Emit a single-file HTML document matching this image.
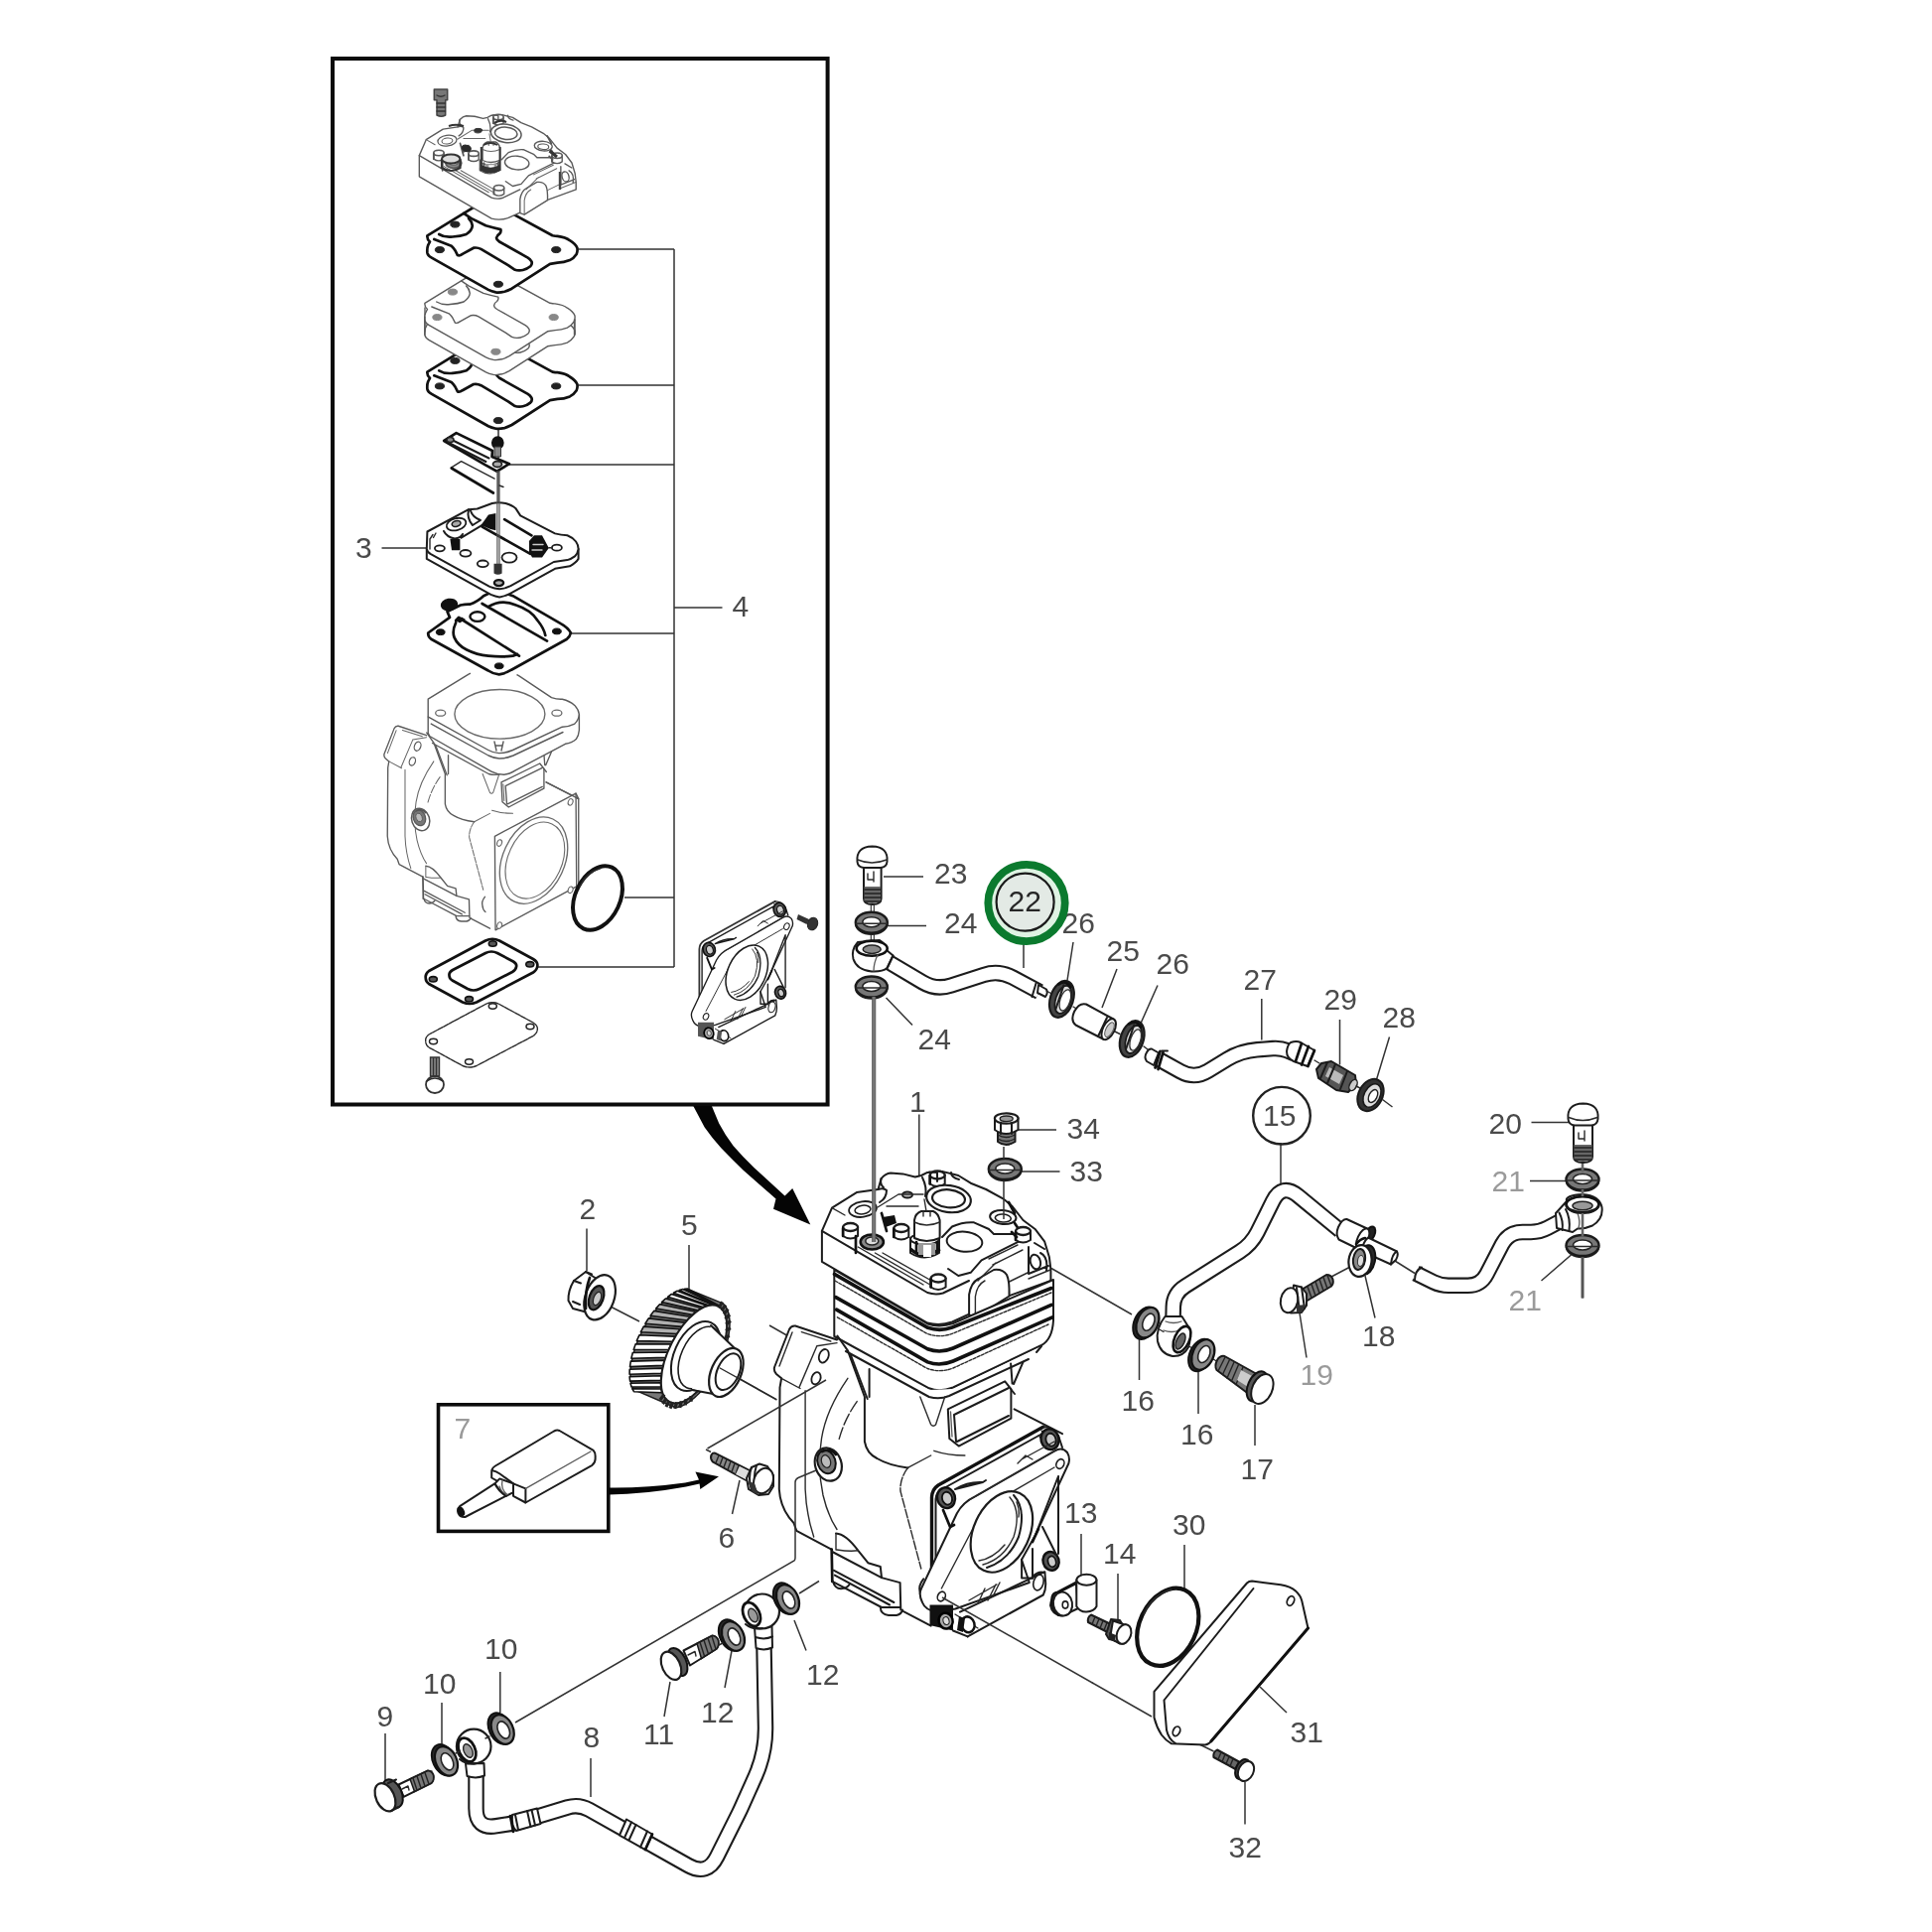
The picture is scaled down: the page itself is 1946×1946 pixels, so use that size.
<!DOCTYPE html>
<html><head><meta charset="utf-8"><title>Compressor parts diagram</title>
<style>
html,body{margin:0;padding:0;background:#fff}
body{width:1946px;height:1946px;overflow:hidden}
svg{display:block}
text{font-family:"Liberation Sans",sans-serif;font-size:30px;fill:#4a4a4a}
.k{fill:none;stroke:#1c1c1c;stroke-width:2;stroke-linecap:round;stroke-linejoin:round}
.t{fill:none;stroke:#2a2a2a;stroke-width:1.4;stroke-linecap:round;stroke-linejoin:round}
.g{fill:none;stroke:#5a5a5a;stroke-width:1.3;stroke-linecap:round;stroke-linejoin:round}
.b{fill:none;stroke:#111;stroke-width:2.7;stroke-linecap:round;stroke-linejoin:round}
.w{fill:#fff}
.l{fill:none;stroke:#333;stroke-width:1.5}
.gk{fill:none;stroke:#5a5a5a;stroke-width:2;stroke-linecap:round;stroke-linejoin:round}
.gt{fill:none;stroke:#666;stroke-width:1.5;stroke-linecap:round;stroke-linejoin:round}
.gb{fill:none;stroke:#555;stroke-width:2.6;stroke-linecap:round;stroke-linejoin:round}
.gi{fill:none;stroke:#5a5a5a;stroke-width:1.4;stroke-linecap:round;stroke-linejoin:round}
</style></head><body>
<svg width="1946" height="1946" viewBox="0 0 1946 1946">
<rect width="1946" height="1946" fill="#fff"/>
<g id="all" style="filter:blur(0.55px)">
<!-- 00_frame.svg -->
<g id="boxes">
<rect x="335" y="59" width="498.6" height="1053.5" fill="none" stroke="#0c0c0c" stroke-width="4"/>
<rect x="441.5" y="1414.8" width="171.3" height="127.6" fill="none" stroke="#0c0c0c" stroke-width="3.6"/>
</g>
<g id="leaders" class="l">
<path d="M890 883H930M894 932.5H933M1031 950V975M1081 949L1075 987.5M1125 976L1110 1015M1166 992.5L1146 1037.5M892.5 1005L919 1032.5M925.8 1122.5V1184M1025 1138H1064M1029 1180H1067.5"/>


<path d="M1270.8 1006V1047.5M1349.5 1027V1072.5M1399.5 1044.5L1386 1089M1392.5 1107.5L1402.5 1115M1290 1151V1194M1542.5 1130.5H1580M1541 1189.5H1580M1552.5 1290L1582.5 1264M1594 1267.5V1307.5M1375 1285L1385 1327.5M1309 1322.5L1316 1367.5M1341 1286L1360 1276M1405 1270L1425 1282.5"/>
<path d="M1147.5 1347.5V1390M1207 1381V1424M1264 1415V1456M1193 1556V1600M1126 1585V1632M1059 1277.5L1140 1324M1089 1545V1592.5"/>
<path d="M1269 1699L1296 1725M1254 1795V1837.5M1100 1695L1101 1695.5M1187.5 1747L1222.5 1764"/>
<path d="M745 1491L737.5 1525M503.8 1684V1725M445 1715V1759M388 1746V1796M595 1771V1810M675 1694L669 1729M737.5 1660L730 1700M800 1632L812 1662.5"/>
<path d="M805 1605L825 1592.5"/>
<path d="M591 1237.5V1280M694 1254V1299M611 1314L644 1331M727.5 1379L782.5 1410M775 1335L792.5 1345M711 1460L716 1462.5"/>
<path d="M679 251V974M582.5 251H679M582.5 388H679M512.5 468H679M575 638H679M679 612H727.5M629 904H679M541 974H679M384.5 552H429M502 430V571"/>
</g>
<g id="labels">
<text x="941" y="890">23</text><text x="951" y="940">24</text><text x="1069.5" y="940">26</text><text x="1114.5" y="967.5">25</text><text x="1164.5" y="981">26</text><text x="924.5" y="1057">24</text><text x="916" y="1120">1</text><text x="1074.5" y="1147">34</text><text x="1077.5" y="1189.5">33</text>
<text x="1252.5" y="997">27</text><text x="1333.5" y="1017">29</text><text x="1392.5" y="1034.5">28</text><text x="1272" y="1134">15</text><text x="1499.5" y="1142">20</text>
<text x="1502.5" y="1199.5" style="fill:#9a9a9a">21</text><text x="1519.5" y="1319.5" style="fill:#9a9a9a">21</text><text x="1372" y="1355.5">18</text><text x="1309.5" y="1394.5" style="fill:#9a9a9a">19</text>
<text x="1129.5" y="1420.5">16</text><text x="1189" y="1454.5">16</text><text x="1249.5" y="1490">17</text><text x="1181" y="1546">30</text><text x="1111" y="1575">14</text><text x="1072" y="1534">13</text>
<text x="1299.5" y="1755">31</text><text x="1237.5" y="1870.5">32</text>
<text x="723.5" y="1559">6</text><text x="488" y="1671">10</text><text x="426" y="1706">10</text><text x="379.5" y="1739">9</text><text x="587.5" y="1760">8</text><text x="648" y="1757">11</text><text x="706" y="1734.5">12</text><text x="812" y="1697">12</text>
<text x="583.5" y="1228">2</text><text x="686" y="1244">5</text><text x="457.5" y="1449" style="fill:#9a9a9a">7</text><text x="358" y="562">3</text><text x="737.5" y="621">4</text>
</g>
<g id="c15"><circle cx="1291" cy="1123.7" r="28.8" fill="none" stroke="#222" stroke-width="2.4"/></g>

<!-- 10_inset.svg -->
<path d="M437.3 90H450.7V100.7H448.7V116Q444.5 118.5 440 116V100.7H437.3Z" fill="#777" stroke="#444" stroke-width="1.5" stroke-linejoin="round"/><path class="t" d="M440 104H448.5M440 108H448.5M440 112H448.5M440 96Q444 98.5 448 96" style="stroke:#333"/><g transform="translate(-139.5 -170.2) scale(0.675)"><path class="gk" d="M851.9 1362L872 1408"/><path fill="#fff" stroke="none" d="M853 1358L936 1400L960 1399L1049 1356L1030 1372L1020 1394L1070 1444L1050 1438L940 1505L939 1636L908 1622L838 1562L800 1532L785 1503V1397L780 1380L801 1335.5L843 1349.5Z"/><path class="gk" d="M843.4 1345.5L853.9 1360.4L870.9 1407V1452Q873 1464 883.4 1469Q895 1476 914.4 1478.4"/><path class="gk" d="M856.6 1364L873.7 1409M875.6 1379V1407"/><path class="gk" d="M851.9 1361L935.8 1407Q946.6 1410 956 1406L1036 1369"/><path class="gk" d="M1049 1356L1044 1362"/><path class="gt" d="M926.8 1407L937.7 1434.9Q940 1437.5 942.5 1435L951.7 1407"/><path class="gk" d="M954.8 1419.4L1012.2 1391.4L1018.4 1399.2V1428.7L965.7 1456.6L956.3 1448.9Z" style="fill:#fff"/><path class="gk" d="M961 1425L1016 1398M961 1425L963 1452M1016 1426L964 1452"/><path class="gt" d="M957.5 1422L959 1447"/><path class="gk" d="M1018.1 1373.4L1019.6 1393.6M1030.5 1371.9L1021 1394"/><path class="gk" d="M1021.6 1419.4L1070 1444.2M1018.4 1399.5L1022 1404"/><path class="gt" d="M940.8 1461.3Q955 1466 971.9 1466M937.7 1466L914.4 1478.4"/><path class="gt" d="M914.4 1478.4Q906 1490 907 1502L927.8 1580" style="stroke-dasharray:9 2"/><path class="gk" d="M843 1349.5L801.1 1335.5Q797 1335 795 1339L780.1 1377Q779 1381 782 1384L787.1 1388.3L785.5 1397.6L784.8 1500Q786 1520 799.5 1534L802.3 1541.9L837.5 1560.6"/><path class="gt" d="M807.3 1341.7L836.8 1351M822.8 1355.7L843 1352.6M822.8 1355.7L804.9 1397.6M787.1 1388.3L806 1398.5M811.1 1400.7V1500Q812 1525 819.7 1548"/><path class="gt" d="M798 1342L785 1376"/><ellipse cx="829.8" cy="1365.8" rx="4.7" ry="7.0" transform="rotate(20.0 829.8 1365.8)" fill="#fff" stroke="#5a5a5a" stroke-width="1.8"/><ellipse cx="822.0" cy="1388.3" rx="4.4" ry="6.3" transform="rotate(20.0 822.0 1388.3)" fill="#fff" stroke="#5a5a5a" stroke-width="1.8"/><path class="gt" d="M853.9 1388.3Q832 1420 827.5 1449Q823 1478 829 1506Q834 1527 843 1540.5"/><path class="gt" d="M863.2 1411.6Q850 1430 844.5 1452" style="stroke-dasharray:12 3"/><ellipse cx="834.3" cy="1475.0" rx="13.2" ry="17.0" transform="rotate(-18.0 834.3 1475.0)" fill="#fff" stroke="#5a5a5a" stroke-width="2.2"/><ellipse cx="832.5" cy="1472.5" rx="9.0" ry="12.0" transform="rotate(-18.0 832.5 1472.5)" fill="#777" stroke="#5a5a5a" stroke-width="2.0"/><ellipse cx="832.0" cy="1472.0" rx="4.5" ry="6.5" transform="rotate(-18.0 832.0 1472.0)" fill="#bbb" stroke="#5a5a5a" stroke-width="1.3"/><path class="gb" d="M828 1462Q836 1458 842 1465"/><path class="gk" d="M842 1544.4Q852 1545 864.4 1561.8L874.3 1574.2L886.8 1578L888 1589.1L906.6 1594.1L907.3 1621.4"/><path class="gt" d="M842 1545V1561M843 1561Q856 1563 864.4 1561.8"/><path class="gb" d="M837.7 1560.6L838.3 1592.9"/><path class="gk" d="M838.3 1563L888 1589.1M839.6 1581.7L900.4 1614M840.8 1586.6L896 1616.5M838.3 1592.9L888 1619H907"/><path class="gk" d="M839 1593Q841 1600 847 1600.3Q853 1600 855.5 1596M886.8 1619Q887 1626 895 1627H903Q908 1626 909 1621.5"/><path class="gk" d="M909.1 1622.7L937.7 1637.6"/><path class="gk" d="M930.2 1590.4Q925 1597 926.5 1603Q927 1610 931 1613"/><path class="gk" d="M945 1500L1066 1436L1067 1575L946 1640Z" style="fill:#fff"/><path class="gk" d="M1021.6 1419.4L1070 1444.2V1580L1067 1575M1066 1436L1070 1444"/><ellipse cx="1003.0" cy="1536.0" rx="46.0" ry="68.0" transform="rotate(25.0 1003.0 1536.0)" fill="#fff" stroke="#6a6a6a" stroke-width="2.0"/><ellipse cx="1005.0" cy="1536.0" rx="40.0" ry="60.0" transform="rotate(25.0 1005.0 1536.0)" fill="#fff" stroke="#6a6a6a" stroke-width="1.6"/><ellipse cx="1058.0" cy="1449.0" rx="3.5" ry="5.0" transform="rotate(20.0 1058.0 1449.0)" fill="#fff" stroke="#6a6a6a" stroke-width="1.6"/><ellipse cx="952.0" cy="1510.0" rx="3.5" ry="5.0" transform="rotate(20.0 952.0 1510.0)" fill="#fff" stroke="#6a6a6a" stroke-width="1.6"/><ellipse cx="1058.0" cy="1580.0" rx="3.5" ry="5.0" transform="rotate(20.0 1058.0 1580.0)" fill="#fff" stroke="#6a6a6a" stroke-width="1.6"/><ellipse cx="952.0" cy="1633.0" rx="3.5" ry="5.0" transform="rotate(20.0 952.0 1633.0)" fill="#fff" stroke="#6a6a6a" stroke-width="1.6"/></g><path class="gi" d="M431.2 704.2L471.6 679.4L497 666L522.9 680.9L555.5 702.7Q561 704.5 566.3 704.2Q574 706 578.8 710.4Q583 715 583.4 719.8V735.3Q583 741 580.3 744.6Q576 748.5 569.4 749.3L519.8 775.7Q513 780 507.3 780.3Q500 780 494.9 777.2L432.8 741.5L431.2 738.4Z" style="fill:#fff"/><path class="gi" d="M431.2 722L432.8 722.9L491.8 755.5Q497 758.5 502.7 758.6Q510 758.5 516.6 755.5L566.3 732.2Q573 732 578.8 729.1Q583 725 583.4 719.8"/><path class="gi" d="M434.3 729.1L492 761Q498 764 503 764Q510 764 517 761L567 737.5"/><ellipse cx="503.4" cy="719.3" rx="45.5" ry="24.8" transform="rotate(0.0 503.4 719.3)" fill="#fff" stroke="#6a6a6a" stroke-width="1.4"/><ellipse cx="443.7" cy="718.2" rx="5.0" ry="3.0" transform="rotate(0.0 443.7 718.2)" fill="#fff" stroke="#6a6a6a" stroke-width="1.3"/><ellipse cx="560.9" cy="718.2" rx="5.0" ry="3.0" transform="rotate(0.0 560.9 718.2)" fill="#fff" stroke="#6a6a6a" stroke-width="1.3"/><path class="gi" d="M498 747L500 756M507 747L505 756M499 751H506"/><path d="M474 678.2L497 666L520.5 679.5" fill="none" stroke="#fff" stroke-width="3.4"/><ellipse cx="602.0" cy="904.5" rx="22.5" ry="34.0" transform="rotate(25.0 602.0 904.5)" fill="none" stroke="#111" stroke-width="4.0"/><path class="t" d="M584 893Q590 879 605 874.5"/><path class="b" d="M431.2 637.5L453 621.9L450.5 616L463.9 609.5Q469 608.5 473.2 608.7Q481 606 487.1 600.2L500 594L516.6 600.2L564.8 628.1Q572 632 574.9 637.5Q574 641.5 571 643.7L515.1 674.7Q509 678.5 502.7 679.4Q496 678.5 491.8 675.5L434.3 643.7Q431 641 431.2 637.5Z" style="fill:#fff"/><ellipse cx="452.5" cy="609.0" rx="8.0" ry="5.5" transform="rotate(-10.0 452.5 609.0)" fill="#111" stroke="#111" stroke-width="1.5"/><path class="b" d="M491.8 611.1Q505 603 519.8 609.5Q535 614.5 541.5 625Q548 633 549.3 640"/><path class="b" d="M459.2 627Q455 636 457.6 642.1Q461 650 470.1 654.5Q480 659.5 491.8 660.7Q506 662 516.6 660.7L521 659"/><path class="b" d="M485.6 608L551 645.6M459.2 625L462 622L522.9 660.7"/><path d="M459.2 625L465 621.5L469 624L463 627.5Z" fill="#111"/><ellipse cx="480.9" cy="621.1" rx="7.5" ry="4.8" transform="rotate(0.0 480.9 621.1)" fill="#fff" stroke="#111" stroke-width="2.4"/><ellipse cx="443.7" cy="636.7" rx="4.4" ry="2.9" transform="rotate(0.0 443.7 636.7)" fill="#111" stroke="#111" stroke-width="1.0"/><ellipse cx="560.9" cy="635.9" rx="4.4" ry="2.9" transform="rotate(0.0 560.9 635.9)" fill="#111" stroke="#111" stroke-width="1.0"/><ellipse cx="502.7" cy="670.8" rx="4.4" ry="2.9" transform="rotate(0.0 502.7 670.8)" fill="#111" stroke="#111" stroke-width="1.0"/><path class="k" d="M429.8 552.9V562.9L494.4 598.9Q499 601 503.1 601.4Q509 600.5 514.3 597.6L559 572.8L573.9 570.3Q580 567 582.6 562.9V552.9Z" style="fill:#fff"/><path class="k" d="M430.4 535.5L472 513.2L480.7 512.5L495.7 507Q502 505.5 509.3 507Q516 509 519.3 511.9L524.2 519.4L559 537.4Q565 539 571.4 539.3Q577 541.5 580.1 545.5Q582.6 549 582.6 552.9Q582 557.5 578.9 560.4Q575.5 563 571.4 564.1L557.8 566L514.3 590.2Q509 592.8 503.1 593.3Q498 592.8 493.2 590.8L433.5 557.9Q430 555.5 429.8 552.9Z" style="fill:#fff"/><path class="t" d="M436 538.5L433 543V553M439 537L436.5 541.5"/><ellipse cx="442.9" cy="552.3" rx="5.0" ry="3.0" transform="rotate(0.0 442.9 552.3)" fill="#fff" stroke="#1c1c1c" stroke-width="1.8"/><ellipse cx="468.9" cy="557.3" rx="5.5" ry="3.3" transform="rotate(0.0 468.9 557.3)" fill="#fff" stroke="#1c1c1c" stroke-width="1.8"/><ellipse cx="486.3" cy="567.8" rx="5.5" ry="3.3" transform="rotate(0.0 486.3 567.8)" fill="#fff" stroke="#1c1c1c" stroke-width="1.8"/><ellipse cx="513.0" cy="561.6" rx="7.5" ry="5.0" transform="rotate(0.0 513.0 561.6)" fill="#fff" stroke="#1c1c1c" stroke-width="1.8"/><ellipse cx="560.9" cy="551.7" rx="5.0" ry="3.0" transform="rotate(0.0 560.9 551.7)" fill="#fff" stroke="#1c1c1c" stroke-width="1.8"/><ellipse cx="502.5" cy="587.1" rx="4.6" ry="3.0" transform="rotate(0.0 502.5 587.1)" fill="#aaa" stroke="#111" stroke-width="2.4"/><ellipse cx="459.6" cy="528.1" rx="10.0" ry="6.0" transform="rotate(-15.0 459.6 528.1)" fill="#fff" stroke="#1c1c1c" stroke-width="1.8"/><ellipse cx="459.6" cy="527.5" rx="4.5" ry="2.8" transform="rotate(-15.0 459.6 527.5)" fill="#aaa" stroke="#1c1c1c" stroke-width="1.6"/><path class="k" d="M447 535Q450 541 458 542.5Q464 542 466 538M464.6 541.7L487 528.1M474 514.5Q476 521 484 524L476 529Q470 522 472 513.2"/><path d="M484.5 529L492 518.5L499.4 516.9V534.3L494 533Z" fill="#111"/><path class="b" d="M508.1 523.1L535.4 539.3M485.7 530.6L534.2 557.9"/><path d="M532.9 545L538 539.3H546L552.8 552L546 561.6H536L533 556Z" fill="#111"/><path class="t" d="M537 548.5H547M536 554H546" style="stroke:#ccc"/><path d="M453.4 543H463.4V554.2H455Z" fill="#111"/><path class="t" d="M552.8 551.7H556"/><path class="b" d="M447.2 444L459.6 436.1L496 454L495.5 460L513 467.2L500.6 474.7L489 468.4Z" style="fill:#fff"/><path class="k" d="M456 443.5L492.5 461.5M452 446L489.4 465"/><ellipse cx="453.5" cy="443.0" rx="3.5" ry="2.5" transform="rotate(0.0 453.5 443.0)" fill="#888" stroke="#222" stroke-width="1.5"/><ellipse cx="501.0" cy="467.5" rx="4.5" ry="3.0" transform="rotate(0.0 501.0 467.5)" fill="#aaa" stroke="#222" stroke-width="1.8"/><ellipse cx="501.3" cy="446.0" rx="5.6" ry="6.0" transform="rotate(0.0 501.3 446.0)" fill="#111" stroke="#111" stroke-width="1.5"/><path d="M498 450H504.5V460H498Z" fill="#888" stroke="#333" stroke-width="1"/><path class="t" d="M464.6 464.7L498.1 482.1M454.7 470.9L464.6 464.7"/><path class="b" d="M454.7 471.5L496.9 496.5"/><path d="M500.9 474V568M503 474V568" stroke="#555" stroke-width="1.2" fill="none"/><path d="M497.5 567.8H505.6V577.5Q501.5 580 497.5 577.5Z" fill="#333"/><path class="t" d="M503 489L507 490.5"/><g transform="translate(0.0 137.3)"><path class="b" d="M430.4 237.3L467.1 214.9L490 201L556.5 237.3Q560 238 561.5 237.9Q570 239 573.9 242.2Q580 246 581.4 249.7Q582 253 580.7 255.9Q578 260 573.9 262.1Q568 264.5 561.5 264.6L554 265.8L515.5 290.7Q511 293 508.1 293.8Q503 295 499.4 294.4Q495 293.5 491.9 291.9L434.8 259.6Q431 257.5 430.4 254.7Q430 250 431.1 247.2L433 243.5Q430 241 430.4 237.3Z" style="fill:#fff"/><path class="b" d="M437.3 241L454.7 247.8Q457 250 458.4 252.2L460.9 257.1Q463 258 465.8 255.9L477 249.7Q481 249 484.5 250.9L511.8 267.1L518 271.4Q522 273 526.7 272Q531 271 534.2 268.3Q536.5 266 535.4 263.4Q534 261 531.7 259.6L503.1 243.5Q500 241.5 500 239.8Q500.5 237 503.1 235.5Q505 233.5 504.3 231.1Q497 229.5 489.4 227.3L474.5 219.9L467.1 214.9"/><path class="b" d="M442.2 236Q448 239.5 455.9 238.5Q464 238 469.6 236Q475.5 232 475.8 227.3Q475 222.5 472 219.9"/><ellipse cx="442.9" cy="251.6" rx="4.6" ry="3.0" transform="rotate(0.0 442.9 251.6)" fill="#222" stroke="#222" stroke-width="1.0"/><ellipse cx="560.2" cy="251.6" rx="4.6" ry="3.0" transform="rotate(0.0 560.2 251.6)" fill="#222" stroke="#222" stroke-width="1.0"/><ellipse cx="501.9" cy="286.3" rx="4.6" ry="3.0" transform="rotate(0.0 501.9 286.3)" fill="#222" stroke="#222" stroke-width="1.0"/><ellipse cx="458.4" cy="226.1" rx="4.6" ry="3.0" transform="rotate(0.0 458.4 226.1)" fill="#222" stroke="#222" stroke-width="1.0"/></g><g transform="translate(-2.5 83.0)"><path class="gi" d="M430.4 237.3L467.1 214.9L490 201L556.5 237.3Q560 238 561.5 237.9Q570 239 573.9 242.2Q580 246 581.4 249.7Q582 253 580.7 255.9Q578 260 573.9 262.1Q568 264.5 561.5 264.6L554 265.8L515.5 290.7Q511 293 508.1 293.8Q503 295 499.4 294.4Q495 293.5 491.9 291.9L434.8 259.6Q431 257.5 430.4 254.7Q430 250 431.1 247.2L433 243.5Q430 241 430.4 237.3Z" style="fill:#fff"/><path class="gi" d="M437.3 241L454.7 247.8Q457 250 458.4 252.2L460.9 257.1Q463 258 465.8 255.9L477 249.7Q481 249 484.5 250.9L511.8 267.1L518 271.4Q522 273 526.7 272Q531 271 534.2 268.3Q536.5 266 535.4 263.4Q534 261 531.7 259.6L503.1 243.5Q500 241.5 500 239.8Q500.5 237 503.1 235.5Q505 233.5 504.3 231.1Q497 229.5 489.4 227.3L474.5 219.9L467.1 214.9"/><path class="gi" d="M442.2 236Q448 239.5 455.9 238.5Q464 238 469.6 236Q475.5 232 475.8 227.3Q475 222.5 472 219.9"/></g><path class="gi" d="M427.9 322V337M579 322V337M428 310V322"/><g transform="translate(-2.5 68.0)"><path class="gi" d="M430.4 237.3L467.1 214.9L490 201L556.5 237.3Q560 238 561.5 237.9Q570 239 573.9 242.2Q580 246 581.4 249.7Q582 253 580.7 255.9Q578 260 573.9 262.1Q568 264.5 561.5 264.6L554 265.8L515.5 290.7Q511 293 508.1 293.8Q503 295 499.4 294.4Q495 293.5 491.9 291.9L434.8 259.6Q431 257.5 430.4 254.7Q430 250 431.1 247.2L433 243.5Q430 241 430.4 237.3Z" style="fill:#fff"/><path class="gi" d="M437.3 241L454.7 247.8Q457 250 458.4 252.2L460.9 257.1Q463 258 465.8 255.9L477 249.7Q481 249 484.5 250.9L511.8 267.1L518 271.4Q522 273 526.7 272Q531 271 534.2 268.3Q536.5 266 535.4 263.4Q534 261 531.7 259.6L503.1 243.5Q500 241.5 500 239.8Q500.5 237 503.1 235.5Q505 233.5 504.3 231.1Q497 229.5 489.4 227.3L474.5 219.9L467.1 214.9"/><path class="gi" d="M442.2 236Q448 239.5 455.9 238.5Q464 238 469.6 236Q475.5 232 475.8 227.3Q475 222.5 472 219.9"/><ellipse cx="442.9" cy="251.6" rx="4.6" ry="3.0" transform="rotate(0.0 442.9 251.6)" fill="#888" stroke="#888" stroke-width="1.0"/><ellipse cx="560.2" cy="251.6" rx="4.6" ry="3.0" transform="rotate(0.0 560.2 251.6)" fill="#888" stroke="#888" stroke-width="1.0"/><ellipse cx="501.9" cy="286.3" rx="4.6" ry="3.0" transform="rotate(0.0 501.9 286.3)" fill="#888" stroke="#888" stroke-width="1.0"/><ellipse cx="458.4" cy="226.1" rx="4.6" ry="3.0" transform="rotate(0.0 458.4 226.1)" fill="#888" stroke="#888" stroke-width="1.0"/></g><path class="gi" d="M427.9 319V334M578.5 322V337"/><g transform="translate(0.0 0.0)"><path class="b" d="M430.4 237.3L467.1 214.9L490 201L556.5 237.3Q560 238 561.5 237.9Q570 239 573.9 242.2Q580 246 581.4 249.7Q582 253 580.7 255.9Q578 260 573.9 262.1Q568 264.5 561.5 264.6L554 265.8L515.5 290.7Q511 293 508.1 293.8Q503 295 499.4 294.4Q495 293.5 491.9 291.9L434.8 259.6Q431 257.5 430.4 254.7Q430 250 431.1 247.2L433 243.5Q430 241 430.4 237.3Z" style="fill:#fff"/><path class="b" d="M437.3 241L454.7 247.8Q457 250 458.4 252.2L460.9 257.1Q463 258 465.8 255.9L477 249.7Q481 249 484.5 250.9L511.8 267.1L518 271.4Q522 273 526.7 272Q531 271 534.2 268.3Q536.5 266 535.4 263.4Q534 261 531.7 259.6L503.1 243.5Q500 241.5 500 239.8Q500.5 237 503.1 235.5Q505 233.5 504.3 231.1Q497 229.5 489.4 227.3L474.5 219.9L467.1 214.9"/><path class="b" d="M442.2 236Q448 239.5 455.9 238.5Q464 238 469.6 236Q475.5 232 475.8 227.3Q475 222.5 472 219.9"/><ellipse cx="442.9" cy="251.6" rx="4.6" ry="3.0" transform="rotate(0.0 442.9 251.6)" fill="#222" stroke="#222" stroke-width="1.0"/><ellipse cx="560.2" cy="251.6" rx="4.6" ry="3.0" transform="rotate(0.0 560.2 251.6)" fill="#222" stroke="#222" stroke-width="1.0"/><ellipse cx="501.9" cy="286.3" rx="4.6" ry="3.0" transform="rotate(0.0 501.9 286.3)" fill="#222" stroke="#222" stroke-width="1.0"/><ellipse cx="458.4" cy="226.1" rx="4.6" ry="3.0" transform="rotate(0.0 458.4 226.1)" fill="#222" stroke="#222" stroke-width="1.0"/></g><g transform="translate(-144.8 -692.7) scale(0.685)"><path class="gk" d="M827.9 1239.9L838 1216.6L862.8 1201.1L884.5 1198L887.6 1187.1Q892 1182 897 1181.6L909.4 1182.4L921.8 1185.5L928 1184L934.2 1180.9L949.8 1180.1L965.3 1184L977.7 1191.7L993.2 1198L1010.3 1207.3L1019.6 1215L1030.5 1229L1042.9 1238.3L1052.2 1250.7L1056.9 1266.3L1058.4 1278.7V1290L1016.5 1305.1L976.1 1323.7L959.1 1331.5Q946.6 1336 934.2 1332.5L827.9 1270.9Z" style="fill:#fff"/><path class="gk" d="M827.9 1239.9L934.2 1302Q942 1304.5 949.8 1302.5L976 1290"/><path class="gt" d="M864.3 1256L930 1294M881.4 1262L936 1293.5M889 1262L940 1291"/><path class="gt" d="M1016.5 1291L1036 1281.5"/><path class="gk" d="M976.1 1324.5V1304Q978 1292 985.5 1288L1001 1279Q1010 1278 1014 1284Q1017 1290 1016.5 1305.5L982.4 1326.8Z" style="fill:#fff"/><path class="gt" d="M982.4 1326.8V1306Q984 1294 992 1290"/><path class="gk" d="M936.7 1183.5V1192.5Q944.2 1197.5 951.7 1192.5V1183.5Z" style="fill:#fff"/><ellipse cx="944.2" cy="1183.5" rx="7.5" ry="4.0" transform="rotate(0.0 944.2 1183.5)" fill="#fff" stroke="#5a5a5a" stroke-width="2.3"/><path class="gb" d="M936.7 1184.5V1192.5"/><ellipse cx="955.5" cy="1207.5" rx="22.5" ry="13.5" transform="rotate(8.0 955.5 1207.5)" fill="#fff" stroke="#5a5a5a" stroke-width="2.2"/><ellipse cx="955.5" cy="1207.3" rx="16.5" ry="9.0" transform="rotate(5.0 955.5 1207.3)" fill="#fff" stroke="#5a5a5a" stroke-width="2.2"/><path class="gk" d="M929 1186Q934 1196 932 1205M936 1180.5L944 1181L944 1190M958 1181Q958 1186 966 1188"/><path class="gk" d="M884.5 1198Q890 1196 893 1199Q893 1207 886 1211M887.6 1187.1Q886 1193 890 1196"/><ellipse cx="869.0" cy="1218.0" rx="14.0" ry="7.8" transform="rotate(-8.0 869.0 1218.0)" fill="#fff" stroke="#5a5a5a" stroke-width="1.8"/><ellipse cx="869.0" cy="1218.5" rx="8.0" ry="4.3" transform="rotate(-8.0 869.0 1218.5)" fill="#fff" stroke="#5a5a5a" stroke-width="1.5"/><ellipse cx="914.0" cy="1203.5" rx="5.0" ry="3.0" transform="rotate(0.0 914.0 1203.5)" fill="#bbb" stroke="#5a5a5a" stroke-width="2.0"/><path class="gt" d="M884 1216L905 1203H930M838 1216.6L851 1224M893 1215L925 1215"/><ellipse cx="1010.3" cy="1226.0" rx="13.2" ry="7.0" transform="rotate(5.0 1010.3 1226.0)" fill="#fff" stroke="#5a5a5a" stroke-width="2.0"/><ellipse cx="1010.3" cy="1227.0" rx="8.0" ry="4.0" transform="rotate(5.0 1010.3 1227.0)" fill="#fff" stroke="#5a5a5a" stroke-width="1.6"/><path class="gb" d="M1016 1211L1022 1222M1022 1232L1028 1241"/><path class="gk" d="M949 1246L959 1235.5Q970 1230.5 981 1231.3L996 1238L1001 1243H1022.7L1026 1250.7L1004 1261.6L988.6 1269.4L977.7 1281.8L965.3 1285L955 1278"/><ellipse cx="971.5" cy="1250.7" rx="17.9" ry="10.0" transform="rotate(5.0 971.5 1250.7)" fill="#fff" stroke="#5a5a5a" stroke-width="2.0"/><path class="gt" d="M996 1268L1025 1254M1000 1274L1030 1259M985 1290L1003 1272"/><path class="gk" d="M849.1 1236.0V1245.0Q856.6 1250.0 864.1 1245.0V1236.0Z" style="fill:#fff"/><ellipse cx="856.6" cy="1236.0" rx="7.5" ry="4.0" transform="rotate(0.0 856.6 1236.0)" fill="#fff" stroke="#5a5a5a" stroke-width="2.3"/><path class="gb" d="M849.1 1237.0V1245.0"/><path class="gk" d="M900.3 1237.0V1246.0Q907.8 1251.0 915.3 1246.0V1237.0Z" style="fill:#fff"/><ellipse cx="907.8" cy="1237.0" rx="7.5" ry="4.0" transform="rotate(0.0 907.8 1237.0)" fill="#fff" stroke="#5a5a5a" stroke-width="2.3"/><path class="gb" d="M900.3 1238.0V1246.0"/><path class="gk" d="M937.6 1287.5V1296.5Q945.1 1301.5 952.6 1296.5V1287.5Z" style="fill:#fff"/><ellipse cx="945.1" cy="1287.5" rx="7.5" ry="4.0" transform="rotate(0.0 945.1 1287.5)" fill="#fff" stroke="#5a5a5a" stroke-width="2.3"/><path class="gb" d="M937.6 1288.5V1296.5"/><path class="gk" d="M1023.0 1240.0V1249.0Q1030.5 1254.0 1038.0 1249.0V1240.0Z" style="fill:#fff"/><ellipse cx="1030.5" cy="1240.0" rx="7.5" ry="4.0" transform="rotate(0.0 1030.5 1240.0)" fill="#fff" stroke="#5a5a5a" stroke-width="2.3"/><path class="gb" d="M1023.0 1241.0V1249.0"/><path class="gb" d="M862 1245V1262M1019 1241L1024 1246"/><ellipse cx="878.3" cy="1251.0" rx="11.6" ry="7.5" transform="rotate(0.0 878.3 1251.0)" fill="#888" stroke="#5a5a5a" stroke-width="2.6"/><ellipse cx="878.3" cy="1250.0" rx="6.5" ry="4.0" transform="rotate(0.0 878.3 1250.0)" fill="#ddd" stroke="#5a5a5a" stroke-width="1.5"/><path d="M889 1226L901 1224L903 1232L892 1236Z" fill="#4a4a4a"/><path class="gb" d="M888 1222L893 1240"/><path class="gk" d="M917 1247V1262Q931 1271 946 1262V1247Z" style="fill:#fff"/><ellipse cx="931.5" cy="1248.0" rx="14.5" ry="5.5" transform="rotate(0.0 931.5 1248.0)" fill="#fff" stroke="#5a5a5a" stroke-width="2.0"/><path d="M917 1258Q931 1271 946.6 1258" fill="none" stroke="#5a5a5a" stroke-width="3.4"/><path class="gk" d="M921 1229V1247Q933 1253 946.6 1247V1229Q945 1222 940 1220H928Q922 1222 921 1229Z" style="fill:#fff"/><path class="gt" d="M921 1231Q933 1237 946.6 1231M930 1220V1225M937 1220V1225M931 1208L933 1220"/><path class="gb" d="M923 1251V1262M944 1251V1262"/><path d="M925 1252H942V1264H925Z" fill="#999"/><path d="M930 1254H938V1266H930Z" fill="#fff"/><ellipse cx="1042.9" cy="1271.0" rx="5.0" ry="7.5" transform="rotate(-15.0 1042.9 1271.0)" fill="#fff" stroke="#5a5a5a" stroke-width="2.0"/><path class="gk" d="M1036 1256L1036 1283M1036 1283L1056 1275M1042 1252L1052 1258M1048 1262Q1056 1266 1054 1280"/><path class="gt" d="M1036 1288L1058 1279"/></g><ellipse cx="481.8" cy="131.2" rx="4.0" ry="1.8" transform="rotate(0.0 481.8 131.2)" fill="#333" stroke="#333" stroke-width="1.0"/><ellipse cx="469.9" cy="149.4" rx="4.5" ry="3.0" transform="rotate(20.0 469.9 149.4)" fill="#2a2a2a" stroke="#2a2a2a" stroke-width="1.0"/><path d="M498 124Q504 120 510 123" fill="none" stroke="#333" stroke-width="2.2"/><path d="M485 166Q494 171.5 503.5 166V172Q494 177.5 485 172Z" fill="#333"/><path d="M484.8 148V172M503.6 148V172" fill="none" stroke="#333" stroke-width="2"/><path d="M487 146Q494 142 501 146" fill="none" stroke="#333" stroke-width="2"/><path d="M445 160V169Q454 175 463.5 169V160" fill="none" stroke="#333" stroke-width="2.2"/><ellipse cx="454.2" cy="160.0" rx="9.2" ry="4.6" transform="rotate(0.0 454.2 160.0)" fill="#ddd" stroke="#333" stroke-width="2.0"/><path d="M452 127Q459 124.5 467 127" fill="none" stroke="#333" stroke-width="2.2"/><path d="M553.5 152L561 158" fill="none" stroke="#333" stroke-width="3"/><path d="M564 173V191" fill="none" stroke="#444" stroke-width="2.4"/><path class="b" d="M428.8 985Q428 981 432 978L489 947.5Q496 944 503 947.5L537 966Q542 969 541.3 973Q541 977 537 979.5L480 1009.5Q473 1012.5 466 1009.5L432 991Q428.5 988.5 428.8 985Z" style="fill:#fff"/><path class="b" d="M452.5 982.5Q452 979.5 456 977L489 960Q495 957 501 960L517 968.5Q521 971 520 974Q519.5 977 516 979L483 996Q477 999 471 996L455.5 987.5Q452.5 985.5 452.5 982.5Z"/><ellipse cx="496.3" cy="950.5" rx="4.0" ry="2.7" transform="rotate(0.0 496.3 950.5)" fill="#555" stroke="#111" stroke-width="1.6"/><ellipse cx="533.8" cy="971.3" rx="4.0" ry="2.7" transform="rotate(0.0 533.8 971.3)" fill="#555" stroke="#111" stroke-width="1.6"/><ellipse cx="436.3" cy="986.3" rx="4.0" ry="2.7" transform="rotate(0.0 436.3 986.3)" fill="#555" stroke="#111" stroke-width="1.6"/><ellipse cx="472.5" cy="1006.3" rx="4.0" ry="2.7" transform="rotate(0.0 472.5 1006.3)" fill="#555" stroke="#111" stroke-width="1.6"/><path class="t" d="M428.8 1048.8Q428 1045 432 1042L489 1011.5Q496 1008 503 1011.5L537 1030Q542 1033 541.3 1037Q541 1041 537 1043.5L480 1073.5Q473 1076.5 466 1073.5L432 1055Q428.5 1052.5 428.8 1048.8Z" style="fill:#fff;stroke-dasharray:5 1.2"/><ellipse cx="496.3" cy="1013.5" rx="4.0" ry="2.7" transform="rotate(0.0 496.3 1013.5)" fill="#fff" stroke="#222" stroke-width="1.5"/><ellipse cx="534.0" cy="1034.0" rx="4.0" ry="2.7" transform="rotate(0.0 534.0 1034.0)" fill="#fff" stroke="#222" stroke-width="1.5"/><ellipse cx="436.5" cy="1049.0" rx="4.0" ry="2.7" transform="rotate(0.0 436.5 1049.0)" fill="#fff" stroke="#222" stroke-width="1.5"/><ellipse cx="472.5" cy="1069.5" rx="4.0" ry="2.7" transform="rotate(0.0 472.5 1069.5)" fill="#fff" stroke="#222" stroke-width="1.5"/><path d="M433.5 1065H442.5V1084H433.5Z" fill="#888" stroke="#333" stroke-width="1.4"/><path class="t" d="M436.5 1066V1083M439.5 1066V1083" style="stroke:#333"/><ellipse cx="438.0" cy="1092.5" rx="9.0" ry="8.5" transform="rotate(0.0 438.0 1092.5)" fill="#fff" stroke="#333" stroke-width="1.8"/><path class="t" d="M430 1089Q438 1083 446 1089"/><g transform="translate(66.2 -69.5) scale(0.68)"><path d="M938.5 1583V1508Q939 1500 945 1496L1050.8 1437.3" fill="none" stroke="#333" stroke-width="2.6" stroke-linecap="round"/><path class="k" d="M942.5 1572V1510Q943 1503 948 1500.5L1050.8 1443.5"/><path class="k" d="M1050.8 1437.3Q1060 1437 1066 1446L1070 1458"/><path class="t" d="M1049 1441L1063 1452M1046 1446L1058 1457"/><path class="k" d="M1062.5 1461.3Q1070 1457 1075 1463Q1078 1468 1076.4 1474L1043 1546L1029 1571L1036.8 1594L962.3 1620.5L943.7 1623.6Q932 1622 929 1614Q925 1606 928 1600L963.9 1524.2Q970 1513 982.5 1507.1Z" style="fill:#fff"/><path class="t" d="M948.3 1600L985 1530Q990 1520 1000 1514L1062 1478"/><path class="t" d="M1062.5 1461.3L976 1511"/><ellipse cx="1067.9" cy="1474.5" rx="3.8" ry="5.0" transform="rotate(25.0 1067.9 1474.5)" fill="#fff" stroke="#1c1c1c" stroke-width="1.6"/><ellipse cx="948.3" cy="1608.0" rx="3.8" ry="5.0" transform="rotate(25.0 948.3 1608.0)" fill="#fff" stroke="#1c1c1c" stroke-width="1.6"/><ellipse cx="1008.9" cy="1542.9" rx="28.0" ry="43.0" transform="rotate(25.0 1008.9 1542.9)" fill="#fff" stroke="#1c1c1c" stroke-width="2.2"/><path class="k" d="M1021 1506Q1034 1520 1026 1548Q1016 1572 994 1579"/><path class="t" d="M1017 1508Q1029 1522 1021 1548Q1011 1570 990 1576M1024 1513Q1027 1520 1026 1528M986 1572Q1000 1570 1012 1556"/><ellipse cx="953.0" cy="1508.7" rx="9.0" ry="10.5" transform="rotate(-15.0 953.0 1508.7)" fill="#555" stroke="#111" stroke-width="2.4"/><ellipse cx="954.0" cy="1509.2" rx="5.0" ry="6.5" transform="rotate(-15.0 954.0 1509.2)" fill="#ccc" stroke="#111" stroke-width="1.8"/><ellipse cx="1057.5" cy="1449.7" rx="9.0" ry="10.5" transform="rotate(-15.0 1057.5 1449.7)" fill="#555" stroke="#111" stroke-width="2.4"/><ellipse cx="1058.5" cy="1450.2" rx="5.0" ry="6.5" transform="rotate(-15.0 1058.5 1450.2)" fill="#ccc" stroke="#111" stroke-width="1.8"/><ellipse cx="1058.6" cy="1572.4" rx="8.0" ry="9.5" transform="rotate(-15.0 1058.6 1572.4)" fill="#555" stroke="#111" stroke-width="2.4"/><ellipse cx="1059.6" cy="1572.9" rx="4.0" ry="5.5" transform="rotate(-15.0 1059.6 1572.9)" fill="#ccc" stroke="#111" stroke-width="1.8"/><path class="k" d="M962 1500Q975 1492 990 1493L993 1491M962 1500L990 1493"/><path class="b" d="M950 1521L957 1538L961 1536"/><path class="t" d="M1029 1470L1062 1452M1025 1474L1033 1466L1040 1470"/><path class="k" d="M1066 1487V1565M1043 1546L1066 1487M1050 1538L1064 1566M1029.1 1570.8V1589.4H1040M1040 1560V1590"/><path class="b" d="M1046 1540L1040 1553"/><path class="k" d="M967 1623.6L1052.4 1583.2M974.7 1648.4L1050.8 1606.5Q1054 1600 1053 1592L1052.4 1583.2M1040 1588Q1046 1582 1052 1584"/><path class="t" d="M976 1612L1004 1596M985 1615L992 1600M995 1612L1003 1596M1000 1608L1007 1594M962 1626L985 1640"/><ellipse cx="1046.0" cy="1594.0" rx="5.0" ry="8.0" transform="rotate(15.0 1046.0 1594.0)" fill="#fff" stroke="#1c1c1c" stroke-width="1.6"/><path d="M936.5 1616.5H960V1642.5L936.5 1637Z" fill="#555"/><ellipse cx="952.6" cy="1632.6" rx="7.0" ry="8.0" transform="rotate(-15.0 952.6 1632.6)" fill="#aaa" stroke="#000" stroke-width="2.5"/><ellipse cx="953.0" cy="1632.6" rx="3.0" ry="4.0" transform="rotate(-15.0 953.0 1632.6)" fill="#ddd" stroke="#222" stroke-width="1.0"/><ellipse cx="975.0" cy="1636.3" rx="6.5" ry="8.0" transform="rotate(-15.0 975.0 1636.3)" fill="#fff" stroke="#111" stroke-width="2.5"/><path d="M966 1628L972 1630L970 1644L964 1642Z" fill="#555"/><path class="k" d="M960 1642.5L974.7 1648.4"/></g><path d="M804 921L815 926L812.5 931L802.5 926Z" fill="#333"/><ellipse cx="818.5" cy="930.5" rx="5.0" ry="6.5" transform="rotate(20.0 818.5 930.5)" fill="#333" stroke="#222" stroke-width="1.0"/>
<!-- 20_pipes_top.svg -->
<circle cx="1034" cy="909.5" r="38.7" fill="#dff3e3" stroke="#0b7a2e" stroke-width="7.8"/><circle cx="1032.6" cy="908.6" r="29" fill="#e3eae5" stroke="#1a1a1a" stroke-width="2.2"/><text x="1015.5" y="917.5" style="font-size:30px;fill:#262626">22</text><path class="k" d="M870 873V905Q870 911 878.8 911Q887.6 911 887.6 905V873Z" style="fill:#fff"/><path d="M870.5 893H887V908Q878 912 870.5 908Z" fill="#666"/><path class="t" d="M871 896H887M871 900H887M871 904H887M871 908H887" style="stroke:#222"/><path class="t" d="M874 880V886H880M880 878V888"/><path class="k" d="M863.5 868Q862 853 878.5 852.5Q895 853 893.5 868Q893 873.5 887 874H870Q864 873.5 863.5 868Z" style="fill:#fff"/><path class="t" d="M864 866Q878 872 893 866"/><path d="M877.3 911V920M880.3 911V920M877.3 940V948M880.3 940V948" class="t" style="stroke-width:1.1"/><ellipse cx="877.8" cy="930.7" rx="16.0" ry="10.5" transform="rotate(0.0 877.8 930.7)" fill="#2a2a2a" stroke="#222" stroke-width="1.5"/><ellipse cx="877.8" cy="929.2" rx="16.0" ry="10.5" transform="rotate(0.0 877.8 929.2)" fill="#777" stroke="#1a1a1a" stroke-width="2.4"/><ellipse cx="877.8" cy="928.7" rx="9.0" ry="5.0" transform="rotate(0.0 877.8 928.7)" fill="#fff" stroke="#222" stroke-width="1.6"/><path class="t" d="M862 930.2H894"/><ellipse cx="877.8" cy="995.5" rx="16.0" ry="10.5" transform="rotate(0.0 877.8 995.5)" fill="#2a2a2a" stroke="#222" stroke-width="1.5"/><ellipse cx="877.8" cy="994.0" rx="16.0" ry="10.5" transform="rotate(0.0 877.8 994.0)" fill="#777" stroke="#1a1a1a" stroke-width="2.4"/><ellipse cx="877.8" cy="993.5" rx="9.0" ry="5.0" transform="rotate(0.0 877.8 993.5)" fill="#fff" stroke="#222" stroke-width="1.6"/><path class="t" d="M862 995.0H894"/><path d="M895.0 969.0L929.2 989.3 Q943.0 997.5 958.2 992.5L990.8 982.0 Q1006.0 977.0 1020.1 984.6L1047.0 999.0" fill="none" stroke="#1c1c1c" stroke-width="16.5" stroke-linecap="butt" stroke-linejoin="round"/><path d="M895.0 969.0L929.2 989.3 Q943.0 997.5 958.2 992.5L990.8 982.0 Q1006.0 977.0 1020.1 984.6L1047.0 999.0" fill="none" stroke="#fff" stroke-width="12.3" stroke-linecap="butt" stroke-linejoin="round"/><path class="k" d="M1046 992L1054 996.5Q1056 1000 1053 1004L1045 1000Z" style="fill:#fff"/><path d="M1043.5 990.5L1039.5 1004" class="k"/><path d="M1054 998L1063 1003" class="t"/><path class="k" d="M864 949Q857 957 859.5 966Q863 977 878 978.5Q889 979 893.5 975L899.5 962.5L893 957Q891 950 886 947Z" style="fill:#fff"/><path class="k" d="M899.5 962.5L893.5 975.5"/><ellipse cx="878.2" cy="955.2" rx="15.5" ry="7.6" transform="rotate(0.0 878.2 955.2)" fill="#fff" stroke="#111" stroke-width="2.6"/><ellipse cx="878.2" cy="956.2" rx="9.0" ry="4.2" transform="rotate(0.0 878.2 956.2)" fill="#888" stroke="#222" stroke-width="1.5"/><path class="g" d="M884 962Q880 970 880 978"/><ellipse cx="1069.4" cy="1006.4" rx="11.5" ry="19.0" transform="rotate(18.0 1069.4 1006.4)" fill="#444" stroke="#1a1a1a" stroke-width="2.2"/><ellipse cx="1070.9" cy="1006.9" rx="7.5" ry="14.5" transform="rotate(18.0 1070.9 1006.9)" fill="#ddd" stroke="#1a1a1a" stroke-width="1.8"/><ellipse cx="1072.9" cy="1007.4" rx="5.0" ry="11.0" transform="rotate(18.0 1072.9 1007.4)" fill="#fff" stroke="#333" stroke-width="1.3"/><path class="k" d="M1063.4 1016.4L1071.4 992.4"/><path class="b" d="M1066.4 991.4Q1073.4 986.4 1078.4 994.4"/><ellipse cx="1140.2" cy="1046.5" rx="11.5" ry="19.0" transform="rotate(18.0 1140.2 1046.5)" fill="#444" stroke="#1a1a1a" stroke-width="2.2"/><ellipse cx="1141.7" cy="1047.0" rx="7.5" ry="14.5" transform="rotate(18.0 1141.7 1047.0)" fill="#ddd" stroke="#1a1a1a" stroke-width="1.8"/><ellipse cx="1143.7" cy="1047.5" rx="5.0" ry="11.0" transform="rotate(18.0 1143.7 1047.5)" fill="#fff" stroke="#333" stroke-width="1.3"/><path class="k" d="M1134.2 1056.5L1142.2 1032.5"/><path class="b" d="M1137.2 1031.5Q1144.2 1026.5 1149.2 1034.5"/><path class="t" d="M1081 1014L1086 1017M1121 1038L1128 1041.5M1152 1054L1156 1057"/><path class="k" d="M1094 1011.5L1121.5 1026.5L1112 1047L1083.5 1032.5Q1078 1028 1082 1019Q1087 1009.5 1094 1011.5Z" style="fill:#fff"/><ellipse cx="1116.7" cy="1036.7" rx="5.8" ry="11.3" transform="rotate(27.0 1116.7 1036.7)" fill="#fff" stroke="#1a1a1a" stroke-width="2.0"/><ellipse cx="1117.5" cy="1037.2" rx="3.6" ry="8.0" transform="rotate(27.0 1117.5 1037.2)" fill="#ccc" stroke="#555" stroke-width="1.0"/><path class="k" d="M1115 1025L1106 1044"/><path d="M1168.0 1067.5L1189.0 1079.2 Q1203.0 1087.0 1216.7 1078.7L1236.3 1066.8 Q1250.0 1058.5 1266.0 1057.3L1282.0 1056.1 Q1290.0 1055.5 1296.5 1058.2L1303.0 1061.0" fill="none" stroke="#1c1c1c" stroke-width="16.5" stroke-linecap="butt" stroke-linejoin="round"/><path d="M1168.0 1067.5L1189.0 1079.2 Q1203.0 1087.0 1216.7 1078.7L1236.3 1066.8 Q1250.0 1058.5 1266.0 1057.3L1282.0 1056.1 Q1290.0 1055.5 1296.5 1058.2L1303.0 1061.0" fill="none" stroke="#fff" stroke-width="12.3" stroke-linecap="butt" stroke-linejoin="round"/><path class="k" d="M1160 1056.5L1167 1060.5L1162 1073L1155 1069Q1152 1065 1155 1060Q1157 1056 1160 1056.5Z" style="fill:#fff"/><path class="b" d="M1168.5 1059L1163.5 1075.5M1171.5 1060L1166.5 1077"/><path class="k" d="M1170 1058.5L1176 1058.5"/><path class="k" d="M1300 1050Q1306 1048 1310 1050L1324 1058L1317 1074L1303 1069Q1296 1066 1296 1059Q1297 1052 1300 1050Z" style="fill:#fff"/><path class="b" d="M1311 1051L1305 1069M1318 1054L1311 1072.5M1324 1058L1317.5 1074"/><path d="M1331 1071L1341 1069L1365 1083L1366 1092L1358 1100L1346 1098L1328 1086L1326 1077Z" fill="#555" stroke="#1a1a1a" stroke-width="2" stroke-linejoin="round"/><path d="M1339 1075L1353 1083L1349 1092L1335 1084Z" fill="#bbb"/><path class="k" d="M1337 1070L1330 1086M1345 1072L1337 1091M1357 1079L1350 1097"/><ellipse cx="1363.0" cy="1093.0" rx="3.5" ry="6.0" transform="rotate(27.0 1363.0 1093.0)" fill="#ccc" stroke="#222" stroke-width="1.5"/><path class="t" d="M1324 1068L1329 1071M1366 1094L1370 1096"/><ellipse cx="1380.5" cy="1103.0" rx="12.0" ry="17.0" transform="rotate(27.0 1380.5 1103.0)" fill="#333" stroke="#1a1a1a" stroke-width="2.0"/><ellipse cx="1382.0" cy="1103.5" rx="8.0" ry="12.5" transform="rotate(27.0 1382.0 1103.5)" fill="#ddd" stroke="#1a1a1a" stroke-width="1.6"/><ellipse cx="1383.0" cy="1104.0" rx="4.0" ry="7.0" transform="rotate(27.0 1383.0 1104.0)" fill="#fff" stroke="#222" stroke-width="1.4"/>
<!-- 21_pipes_right.svg -->
<path d="M1181.5 1330.0L1181.8 1316.4 Q1182.0 1302.8 1193.9 1295.4L1248.4 1261.0 Q1260.3 1253.6 1266.6 1241.1L1282.0 1210.1 Q1291.4 1191.3 1307.6 1204.6L1350.0 1239.5" fill="none" stroke="#1c1c1c" stroke-width="16.5" stroke-linecap="butt" stroke-linejoin="round"/><path d="M1181.5 1330.0L1181.8 1316.4 Q1182.0 1302.8 1193.9 1295.4L1248.4 1261.0 Q1260.3 1253.6 1266.6 1241.1L1282.0 1210.1 Q1291.4 1191.3 1307.6 1204.6L1350.0 1239.5" fill="none" stroke="#fff" stroke-width="12.3" stroke-linecap="butt" stroke-linejoin="round"/><path class="k" d="M1356.5 1228L1377 1237.5L1368 1258L1348.5 1248.5Q1345 1243 1348 1236Q1352 1227.5 1356.5 1228Z" style="fill:#fff"/><ellipse cx="1380.0" cy="1243.0" rx="4.5" ry="8.0" transform="rotate(25.0 1380.0 1243.0)" fill="#222" stroke="#111" stroke-width="2.0"/><ellipse cx="1372.7" cy="1247.8" rx="5.2" ry="11.2" transform="rotate(25.0 1372.7 1247.8)" fill="#fff" stroke="#1a1a1a" stroke-width="2.0"/><path class="k" d="M1378 1246.5L1407 1260.5Q1409 1264 1406 1269L1401 1273.5L1372 1260.5Q1372 1252 1378 1246.5Z" style="fill:#fff"/><path class="k" d="M1407 1260.5Q1402 1263 1401 1273.5"/><ellipse cx="1376.0" cy="1269.0" rx="9.0" ry="15.0" transform="rotate(12.0 1376.0 1269.0)" fill="#2a2a2a" stroke="#111" stroke-width="2.0"/><ellipse cx="1370.0" cy="1270.0" rx="11.5" ry="16.0" transform="rotate(8.0 1370.0 1270.0)" fill="#fff" stroke="#1a1a1a" stroke-width="2.2"/><ellipse cx="1369.0" cy="1268.5" rx="6.0" ry="10.5" transform="rotate(8.0 1369.0 1268.5)" fill="#888" stroke="#1a1a1a" stroke-width="2.0"/><ellipse cx="1370.5" cy="1270.0" rx="3.0" ry="5.5" transform="rotate(8.0 1370.5 1270.0)" fill="#ddd" stroke="#333" stroke-width="1.0"/><path class="b" d="M1366 1253Q1370 1248 1375 1247"/><path d="M1312.5 1298L1336 1284Q1341 1284 1342.5 1288.5Q1343.5 1293 1341 1295.5L1316 1310.5Z" fill="#777" stroke="#1a1a1a" stroke-width="2" stroke-linejoin="round"/><path class="t" d="M1317 1296L1321 1307M1321 1293.5L1325 1305M1325 1291L1329 1302.5M1329 1288.5L1333 1300M1333 1286.5L1337 1298M1337 1284.5L1341 1295.5" style="stroke:#222"/><path class="k" d="M1303 1294.5L1311 1296.5L1316 1303L1316 1315L1311 1322L1300 1322.5Z" style="fill:#fff"/><ellipse cx="1298.6" cy="1309.7" rx="8.6" ry="12.6" transform="rotate(12.0 1298.6 1309.7)" fill="#fff" stroke="#1a1a1a" stroke-width="2.0"/><path class="k" d="M1306 1297L1309 1321M1311 1296.5L1314 1318"/><path d="M1306 1315L1315 1314L1311 1322L1306 1322Z" fill="#333"/><path d="M1426.0 1282.5L1443.8 1291.3 Q1451.0 1294.8 1459.0 1294.8L1478.5 1294.8 Q1491.5 1294.8 1497.5 1283.3L1513.0 1253.4 Q1519.5 1241.0 1533.5 1241.0L1542.0 1241.0 Q1551.0 1241.0 1558.9 1236.8L1583.0 1224.0" fill="none" stroke="#1c1c1c" stroke-width="16.5" stroke-linecap="butt" stroke-linejoin="round"/><path d="M1426.0 1282.5L1443.8 1291.3 Q1451.0 1294.8 1459.0 1294.8L1478.5 1294.8 Q1491.5 1294.8 1497.5 1283.3L1513.0 1253.4 Q1519.5 1241.0 1533.5 1241.0L1542.0 1241.0 Q1551.0 1241.0 1558.9 1236.8L1583.0 1224.0" fill="none" stroke="#fff" stroke-width="12.3" stroke-linecap="butt" stroke-linejoin="round"/><path class="k" d="M1432 1276.5Q1425 1280 1425 1289"/><path class="k" d="M1578 1210Q1576 1204 1594 1203Q1611 1204 1613.5 1216Q1615 1228 1604 1234.5Q1596 1238 1589 1237.5L1584 1241L1568 1237L1567 1222Z" style="fill:#fff"/><path class="k" d="M1570.5 1221.5Q1575 1230 1573.5 1239M1577 1218Q1582 1227 1580.5 1239.5"/><path class="g" d="M1589 1222Q1592 1230 1590 1237"/><ellipse cx="1594.0" cy="1213.2" rx="16.5" ry="8.0" transform="rotate(0.0 1594.0 1213.2)" fill="#fff" stroke="#111" stroke-width="2.8"/><ellipse cx="1594.0" cy="1214.5" rx="10.0" ry="4.2" transform="rotate(0.0 1594.0 1214.5)" fill="#999" stroke="#222" stroke-width="1.5"/><path d="M1578 1214Q1580 1222 1594 1222Q1608 1222 1610 1214" class="k"/><ellipse cx="1594.0" cy="1189.5" rx="16.5" ry="10.5" transform="rotate(0.0 1594.0 1189.5)" fill="#2a2a2a" stroke="#222" stroke-width="1.5"/><ellipse cx="1594.0" cy="1188.0" rx="16.5" ry="10.5" transform="rotate(0.0 1594.0 1188.0)" fill="#777" stroke="#1a1a1a" stroke-width="2.4"/><ellipse cx="1594.0" cy="1187.5" rx="9.5" ry="5.0" transform="rotate(0.0 1594.0 1187.5)" fill="#fff" stroke="#222" stroke-width="1.6"/><path class="t" d="M1578 1189.0H1610"/><ellipse cx="1594.0" cy="1256.0" rx="16.5" ry="10.5" transform="rotate(0.0 1594.0 1256.0)" fill="#2a2a2a" stroke="#222" stroke-width="1.5"/><ellipse cx="1594.0" cy="1254.5" rx="16.5" ry="10.5" transform="rotate(0.0 1594.0 1254.5)" fill="#777" stroke="#1a1a1a" stroke-width="2.4"/><ellipse cx="1594.0" cy="1254.0" rx="9.5" ry="5.0" transform="rotate(0.0 1594.0 1254.0)" fill="#fff" stroke="#222" stroke-width="1.6"/><path class="t" d="M1578 1255.5H1610"/><path d="M1594 1266V1307.5" stroke="#555" stroke-width="3" fill="none"/><path d="M1594 1171V1180M1594 1198V1205M1594 1222V1245" stroke="#666" stroke-width="2.6" fill="none"/><path class="k" d="M1585 1133V1165Q1585 1171 1594.5 1171Q1604 1171 1604 1165V1133Z" style="fill:#fff"/><path d="M1585.5 1153H1603.5V1168Q1594 1172 1585.5 1168Z" fill="#666"/><path class="t" d="M1586 1156H1603M1586 1160H1603M1586 1164H1603M1586 1168H1603" style="stroke:#222"/><path class="t" d="M1590 1141V1147H1596M1596 1139V1149"/><path class="k" d="M1579.5 1127Q1578 1112 1594.5 1111.5Q1611 1112 1609.5 1127Q1609 1133 1603 1133.5H1586Q1580 1133 1579.5 1127Z" style="fill:#fff"/><path class="t" d="M1580 1125.5Q1594 1131.5 1609 1125.5"/><ellipse cx="1153.4" cy="1332.7" rx="11.0" ry="17.0" transform="rotate(24.0 1153.4 1332.7)" fill="#2a2a2a" stroke="#111" stroke-width="2.0"/><ellipse cx="1155.9" cy="1332.2" rx="10.5" ry="16.0" transform="rotate(24.0 1155.9 1332.2)" fill="#888" stroke="#111" stroke-width="2.2"/><ellipse cx="1156.9" cy="1331.7" rx="5.5" ry="9.0" transform="rotate(24.0 1156.9 1331.7)" fill="#fff" stroke="#222" stroke-width="1.6"/><path class="k" d="M1173.5 1326Q1164 1338 1166 1351Q1169 1364 1181 1366Q1192 1366.5 1197 1357Q1200 1348 1198 1338L1190.5 1326Z" style="fill:#fff"/><path class="g" d="M1174 1331Q1182 1334 1190 1331M1172 1340Q1180 1343 1188 1340"/><ellipse cx="1190.5" cy="1349.0" rx="7.5" ry="14.0" transform="rotate(24.0 1190.5 1349.0)" fill="#fff" stroke="#111" stroke-width="2.6"/><ellipse cx="1189.0" cy="1351.0" rx="4.0" ry="8.5" transform="rotate(24.0 1189.0 1351.0)" fill="#666" stroke="#222" stroke-width="1.5"/><path class="t" d="M1166 1338L1172 1341.5M1196 1355L1201 1358M1222 1369L1227 1372"/><ellipse cx="1209.3" cy="1365.0" rx="11.0" ry="17.0" transform="rotate(24.0 1209.3 1365.0)" fill="#2a2a2a" stroke="#111" stroke-width="2.0"/><ellipse cx="1211.8" cy="1364.5" rx="10.5" ry="16.0" transform="rotate(24.0 1211.8 1364.5)" fill="#888" stroke="#111" stroke-width="2.2"/><ellipse cx="1212.8" cy="1364.0" rx="5.5" ry="9.0" transform="rotate(24.0 1212.8 1364.0)" fill="#fff" stroke="#222" stroke-width="1.6"/><path d="M1233.5 1366L1265 1383.5L1257 1403.5L1225.5 1380Q1223 1376 1226 1370Q1229 1365 1233.5 1366Z" fill="#777" stroke="#1a1a1a" stroke-width="2" stroke-linejoin="round"/><path class="t" d="M1234 1367L1227 1381M1238.5 1369.5L1231.5 1384.5M1243 1372L1236 1388M1247.5 1374.5L1240.5 1391M1252 1377L1245 1394.5" style="stroke:#222"/><path d="M1250 1380L1262 1386.5L1257 1397L1246 1390Z" fill="#ccc"/><ellipse cx="1266.5" cy="1396.5" rx="9.5" ry="16.0" transform="rotate(24.0 1266.5 1396.5)" fill="#555" stroke="#111" stroke-width="2.0"/><ellipse cx="1271.4" cy="1399.0" rx="10.0" ry="15.8" transform="rotate(24.0 1271.4 1399.0)" fill="#fff" stroke="#1a1a1a" stroke-width="2.0"/>
<!-- 25_left.svg -->
<path d="M698.3 1114L709.7 1135.5Q717 1146 726.3 1156.3Q737 1167.5 749 1179L781.5 1207.5L779 1217.8L816.3 1233.4L798.2 1197.1L790.5 1204.5L759.4 1175.9Q748 1165 738.7 1154.2Q730 1142.5 724.2 1131.4L716.9 1114Z" fill="#050505"/><path d="M613 1498.5Q650 1499 690 1493.5L704 1490.5L700.4 1482.4L724 1487.3L705.3 1500L704.6 1494.5L691 1497.5Q650 1505 613 1505.5Z" fill="#050505"/><path class="k" d="M563.5 1441Q561 1440 558 1441.5L499 1476.5Q495 1479 495.2 1483V1488.5L503.3 1493.2L517 1494.4V1506.8L529.4 1513.5L596.5 1475.8Q600 1473 599.6 1468.3Q600 1463 597.7 1460.9Z" style="fill:#fff"/><path class="k" d="M495.5 1481Q500 1482 503.5 1484.5L517 1494.4L529.4 1499.4V1513.5"/><path class="g" d="M529.4 1499.4L595 1462"/><path class="k" d="M503.3 1489.4L498.5 1494.4Q503 1502 509.5 1507L517 1503.1V1494.4Z" style="fill:#fff"/><path class="g" d="M506 1491Q504 1500 511 1505.5M503 1497Q505 1503 509 1505"/><path class="k" d="M498.3 1494.4L463.5 1516.8Q460 1520 461.5 1524Q463.5 1528.5 468.5 1528L509.5 1506.8Q502 1502 498.3 1494.4Z" style="fill:#fff"/><ellipse cx="464.4" cy="1522.4" rx="2.6" ry="4.4" transform="rotate(-25.0 464.4 1522.4)" fill="#111" stroke="#111" stroke-width="1.5"/><path class="k" d="M590 1281L578 1290Q572 1300 572.5 1310L577 1318L592 1322L604 1290Z" style="fill:#fff"/><path class="k" d="M590 1281L596 1283.5M578 1290L585 1292.5M577 1311L584 1314"/><ellipse cx="604.1" cy="1306.8" rx="14.5" ry="23.5" transform="rotate(20.0 604.1 1306.8)" fill="#fff" stroke="#1c1c1c" stroke-width="2.2"/><path class="b" d="M594 1287Q589 1300 590 1318"/><ellipse cx="600.6" cy="1307.2" rx="7.0" ry="12.6" transform="rotate(20.0 600.6 1307.2)" fill="#555" stroke="#111" stroke-width="2.2"/><ellipse cx="601.5" cy="1308.0" rx="3.6" ry="7.0" transform="rotate(20.0 601.5 1308.0)" fill="#ccc" stroke="#222" stroke-width="1.2"/><path d="M695.2 1299.5L693.7 1299.2L692.1 1299.0L690.5 1299.1L688.7 1299.3L687.0 1299.6L685.1 1300.2L683.3 1300.9L681.3 1301.7L679.4 1302.8L677.4 1303.9L675.4 1305.3L673.4 1306.8L671.4 1308.4L669.4 1310.2L667.4 1312.1L665.4 1314.1L663.4 1316.3L661.5 1318.5L659.5 1320.9L657.6 1323.4L655.8 1325.9L654.0 1328.6L652.2 1331.3L650.6 1334.1L648.9 1337.0L647.4 1339.9L645.9 1342.8L644.5 1345.8L643.2 1348.8L641.9 1351.8L640.8 1354.9L639.7 1357.9L638.8 1360.9L637.9 1363.9L637.2 1366.8L636.6 1369.7L636.0 1372.5L635.6 1375.3L635.3 1378.0L635.1 1380.7L635.0 1383.2L635.0 1385.7L635.2 1388.0L635.4 1390.3L635.8 1392.4L636.2 1394.4L636.8 1396.3L637.5 1398.0L638.3 1399.6L680.5 1417.8L682.3 1417.5L684.1 1417.1L685.9 1416.4L687.8 1415.7L689.8 1414.7L691.7 1413.6L693.7 1412.3L695.7 1410.9L697.7 1409.3L699.7 1407.6L701.7 1405.8L703.8 1403.8L705.7 1401.7L707.7 1399.5L709.6 1397.1L711.6 1394.7L713.4 1392.2L715.2 1389.5L717.0 1386.8L718.7 1384.1L720.4 1381.2L722.0 1378.3L723.5 1375.4L724.9 1372.4L726.3 1369.4L727.6 1366.4L728.7 1363.4L729.8 1360.4L730.8 1357.4L731.7 1354.4L732.5 1351.5L733.2 1348.5L733.8 1345.7L734.2 1342.9L734.6 1340.1L734.8 1337.4L735.0 1334.9L735.0 1332.4L734.9 1330.0L734.7 1327.7L734.4 1325.5L734.0 1323.4L733.4 1321.5L732.8 1319.7L732.0 1318.1L731.2 1316.5L730.2 1315.2L729.2 1314.0L728.1 1312.9Z" fill="#777" stroke="#1c1c1c" stroke-width="1.5" stroke-linejoin="round"/><path d="M689.5 1298.2L692.8 1298.1L724.5 1315.3L722.0 1314.2 Z" fill="#fff" stroke="#111" stroke-width="1.6" stroke-linejoin="round"/><path d="M684.1 1299.5L687.8 1298.5L720.7 1313.9L717.8 1313.7 Z" fill="#fff" stroke="#111" stroke-width="1.6" stroke-linejoin="round"/><path d="M678.4 1302.3L682.2 1300.3L716.3 1313.8L713.1 1314.5 Z" fill="#fff" stroke="#111" stroke-width="1.6" stroke-linejoin="round"/><path d="M672.5 1306.3L676.4 1303.5L711.4 1315.1L708.0 1316.6 Z" fill="#fff" stroke="#111" stroke-width="1.6" stroke-linejoin="round"/><path d="M666.5 1311.6L670.4 1308.0L706.2 1317.6L702.7 1319.9 Z" fill="#b0b0b0" stroke="#111" stroke-width="1.6" stroke-linejoin="round"/><path d="M660.6 1318.0L664.5 1313.7L700.9 1321.3L697.3 1324.4 Z" fill="#b0b0b0" stroke="#111" stroke-width="1.6" stroke-linejoin="round"/><path d="M655.1 1325.3L658.7 1320.4L695.5 1326.2L691.9 1330.0 Z" fill="#b0b0b0" stroke="#111" stroke-width="1.6" stroke-linejoin="round"/><path d="M649.9 1333.3L653.3 1327.9L690.1 1332.1L686.7 1336.4 Z" fill="#b0b0b0" stroke="#111" stroke-width="1.6" stroke-linejoin="round"/><path d="M645.3 1341.8L648.3 1336.1L685.1 1338.7L681.9 1343.5 Z" fill="#b0b0b0" stroke="#111" stroke-width="1.6" stroke-linejoin="round"/><path d="M641.3 1350.6L643.9 1344.8L680.3 1346.1L677.5 1351.2 Z" fill="#fff" stroke="#111" stroke-width="1.6" stroke-linejoin="round"/><path d="M638.2 1359.5L640.2 1353.7L676.1 1353.9L673.6 1359.2 Z" fill="#fff" stroke="#111" stroke-width="1.6" stroke-linejoin="round"/><path d="M635.9 1368.2L637.3 1362.5L672.5 1362.0L670.4 1367.4 Z" fill="#fff" stroke="#111" stroke-width="1.6" stroke-linejoin="round"/><path d="M634.5 1376.6L635.3 1371.1L669.5 1370.1L668.0 1375.4 Z" fill="#fff" stroke="#111" stroke-width="1.6" stroke-linejoin="round"/><path d="M634.1 1384.2L634.2 1379.2L667.4 1378.1L666.4 1383.2 Z" fill="#fff" stroke="#111" stroke-width="1.6" stroke-linejoin="round"/><path d="M634.6 1391.1L634.1 1386.7L666.0 1385.7L665.6 1390.4 Z" fill="#fff" stroke="#111" stroke-width="1.6" stroke-linejoin="round"/><path d="M636.1 1397.0L635.0 1393.2L665.5 1392.7L665.7 1397.0 Z" fill="#fff" stroke="#111" stroke-width="1.6" stroke-linejoin="round"/><path d="M638.5 1401.7L636.8 1398.8L665.9 1399.0L666.7 1402.7 Z" fill="#fff" stroke="#111" stroke-width="1.6" stroke-linejoin="round"/><ellipse cx="699.0" cy="1364.0" rx="25.0" ry="54.0" transform="rotate(27.0 699.0 1364.0)" fill="#fff" stroke="#1c1c1c" stroke-width="2.0"/><path d="M727.5 1311.2L724.1 1317.4" stroke="#222" stroke-width="3.2" fill="none"/><path d="M730.8 1314.3L726.9 1320.0" stroke="#222" stroke-width="3.2" fill="none"/><path d="M733.3 1318.6L729.1 1323.8" stroke="#222" stroke-width="3.2" fill="none"/><path d="M735.0 1324.0L730.5 1328.5" stroke="#222" stroke-width="3.2" fill="none"/><path d="M735.9 1330.4L731.2 1334.1" stroke="#222" stroke-width="3.2" fill="none"/><path d="M735.8 1337.6L731.0 1340.4" stroke="#222" stroke-width="3.2" fill="none"/><path d="M734.8 1345.4L730.1 1347.3" stroke="#222" stroke-width="3.2" fill="none"/><path d="M732.9 1353.8L728.3 1354.7" stroke="#222" stroke-width="3.2" fill="none"/><path d="M696.1 1411.8L696.0 1406.0" stroke="#222" stroke-width="3.2" fill="none"/><path d="M690.3 1415.4L691.0 1409.3" stroke="#222" stroke-width="3.2" fill="none"/><path d="M684.8 1417.8L686.2 1411.4" stroke="#222" stroke-width="3.2" fill="none"/><path d="M679.7 1418.9L681.7 1412.4" stroke="#222" stroke-width="3.2" fill="none"/><path d="M675.0 1418.6L677.7 1412.2" stroke="#222" stroke-width="3.2" fill="none"/><path d="M670.9 1417.0L674.2 1410.8" stroke="#222" stroke-width="3.2" fill="none"/><path d="M667.5 1414.0L671.3 1408.3" stroke="#222" stroke-width="3.2" fill="none"/><path d="M664.9 1409.9L669.1 1404.6" stroke="#222" stroke-width="3.2" fill="none"/><ellipse cx="701.0" cy="1366.0" rx="22.0" ry="37.0" transform="rotate(24.0 701.0 1366.0)" fill="#fff" stroke="#1c1c1c" stroke-width="2.0"/><ellipse cx="705.0" cy="1367.5" rx="19.0" ry="33.0" transform="rotate(24.0 705.0 1367.5)" fill="#fff" stroke="#1c1c1c" stroke-width="1.6"/><path d="M716 1335.5L741 1359L722 1405L697 1399Z" fill="#fff"/><path class="k" d="M716 1335L741.5 1359.5M697 1400L721 1404.5"/><ellipse cx="731.4" cy="1382.4" rx="15.0" ry="26.0" transform="rotate(24.0 731.4 1382.4)" fill="#fff" stroke="#1c1c1c" stroke-width="2.2"/><ellipse cx="733.5" cy="1381.7" rx="11.0" ry="19.5" transform="rotate(24.0 733.5 1381.7)" fill="#fff" stroke="#1c1c1c" stroke-width="2.0"/><path class="t" d="M725.2 1378L781 1409"/><path d="M720.2 1463.7L757.5 1482.4L751.3 1491L717.8 1472.4Q715 1469 716.5 1465.5Q718 1463 720.2 1463.7Z" fill="#888" stroke="#1a1a1a" stroke-width="2" stroke-linejoin="round"/><path class="t" d="M724 1466L721 1473.5M728 1468L725 1476M732 1470L729 1478M736 1472L733 1480.5M740 1474L737 1482.5M744 1476L741 1485" style="stroke:#222"/><path d="M745 1477L757 1483L752 1490.5L741 1485Z" fill="#ddd"/><path class="k" d="M757 1478L765 1474.5L773 1477L779 1486V1497L774 1505L764 1506L754 1500L752 1489Z" style="fill:#fff"/><path class="k" d="M757 1478Q753 1488 757 1501M762 1476Q758 1488 761 1504"/><ellipse cx="769.0" cy="1491.5" rx="9.5" ry="13.0" transform="rotate(20.0 769.0 1491.5)" fill="#fff" stroke="#1c1c1c" stroke-width="2.0"/><path d="M753 1492L758 1503L764 1506L760 1494Z" fill="#333"/>
<!-- 26_bottom.svg -->
<path d="M479.5 1786.0L479.5 1821.5 Q479.5 1842.5 499.8 1839.2L514.1 1837.0 Q520.0 1836.0 525.7 1834.3L571.5 1820.5 Q583.0 1817.0 593.5 1822.9L693.2 1879.0 Q712.4 1889.8 722.2 1870.1L744.2 1826.1 Q746.0 1822.5 747.6 1818.8L761.0 1788.8 Q771.5 1765.0 771.0 1739.0L769.5 1659.0" fill="none" stroke="#1c1c1c" stroke-width="16.5" stroke-linecap="butt" stroke-linejoin="round"/><path d="M479.5 1786.0L479.5 1821.5 Q479.5 1842.5 499.8 1839.2L514.1 1837.0 Q520.0 1836.0 525.7 1834.3L571.5 1820.5 Q583.0 1817.0 593.5 1822.9L693.2 1879.0 Q712.4 1889.8 722.2 1870.1L744.2 1826.1 Q746.0 1822.5 747.6 1818.8L761.0 1788.8 Q771.5 1765.0 771.0 1739.0L769.5 1659.0" fill="none" stroke="#fff" stroke-width="12.3" stroke-linecap="butt" stroke-linejoin="round"/><path class="k" d="M516 1828L541 1821.5L544.5 1837L520 1844Q515 1840 516 1828Z" style="fill:#fff"/><path class="k" d="M531 1824L534.5 1840M535.5 1823L539 1838.5M519 1828L522 1843"/><path class="b" d="M514 1829L517 1845"/><path class="k" d="M631 1832.5L657 1847.5L650 1863L624 1848.5Z" style="fill:#fff"/><path class="k" d="M636 1835.5L629 1851M640.5 1838L633.5 1853.5M652 1844.5L645 1860.5"/><path class="b" d="M657 1847.5L650 1863"/><path class="k" d="M469 1776.5L470.5 1789Q480 1792 488 1788.5L487.5 1776Z" style="fill:#fff"/><circle cx="477.2" cy="1759" r="17.3" fill="#fff" stroke="#1c1c1c" stroke-width="2.2"/><ellipse cx="470.4" cy="1762.5" rx="8.0" ry="12.6" transform="rotate(-25.0 470.4 1762.5)" fill="#fff" stroke="#111" stroke-width="2.8"/><ellipse cx="471.5" cy="1763.5" rx="4.2" ry="7.2" transform="rotate(-25.0 471.5 1763.5)" fill="#999" stroke="#222" stroke-width="1.4"/><path class="k" d="M463 1772Q470 1778 480 1776"/><ellipse cx="447.0" cy="1772.8" rx="11.0" ry="16.5" transform="rotate(-25.0 447.0 1772.8)" fill="#2a2a2a" stroke="#111" stroke-width="2.0"/><ellipse cx="449.5" cy="1773.8" rx="10.5" ry="15.5" transform="rotate(-25.0 449.5 1773.8)" fill="#888" stroke="#111" stroke-width="2.2"/><ellipse cx="450.5" cy="1774.3" rx="5.5" ry="9.1" transform="rotate(-25.0 450.5 1774.3)" fill="#fff" stroke="#222" stroke-width="1.6"/><ellipse cx="503.7" cy="1741.0" rx="11.0" ry="16.5" transform="rotate(-25.0 503.7 1741.0)" fill="#2a2a2a" stroke="#111" stroke-width="2.0"/><ellipse cx="506.2" cy="1742.0" rx="10.5" ry="15.5" transform="rotate(-25.0 506.2 1742.0)" fill="#888" stroke="#111" stroke-width="2.2"/><ellipse cx="507.2" cy="1742.5" rx="5.5" ry="9.1" transform="rotate(-25.0 507.2 1742.5)" fill="#fff" stroke="#222" stroke-width="1.6"/><path class="t" d="M435 1784L429 1787M459 1766L463 1764M493 1749L489 1751"/><path d="M401.5 1797.5L431 1783.5Q435 1784 436.5 1788Q437.5 1793 434.5 1796L406.6 1809.8Z" fill="#fff" stroke="#1a1a1a" stroke-width="2" stroke-linejoin="round"/><path d="M413 1792L431 1783.5Q435 1784 436.5 1788Q437.5 1793 434.5 1796L417.5 1804.5Z" fill="#777" stroke="#1a1a1a" stroke-width="1.5"/><path class="t" d="M416 1791L420 1803M420 1789L424 1801M424 1787L428 1799M428 1785.5L432 1797" style="stroke:#222"/><path class="t" d="M405 1802L411 1799L412 1803"/><ellipse cx="395.5" cy="1806.5" rx="9.0" ry="15.0" transform="rotate(-25.0 395.5 1806.5)" fill="#555" stroke="#111" stroke-width="2.0"/><ellipse cx="388.0" cy="1810.3" rx="9.2" ry="15.0" transform="rotate(-25.0 388.0 1810.3)" fill="#fff" stroke="#1c1c1c" stroke-width="2.2"/><path class="k" d="M391 1796L399 1792.5M394 1824L402 1820"/><path class="k" d="M760 1639L761.5 1660Q770 1663 778 1659.5L777.5 1638Z" style="fill:#fff"/><path class="k" d="M761 1649Q770 1652 778 1648.5"/><circle cx="767.5" cy="1623" r="17.5" fill="#fff" stroke="#1c1c1c" stroke-width="2.2"/><ellipse cx="757.0" cy="1626.0" rx="8.0" ry="12.6" transform="rotate(-25.0 757.0 1626.0)" fill="#fff" stroke="#111" stroke-width="2.8"/><ellipse cx="758.5" cy="1627.0" rx="4.2" ry="7.2" transform="rotate(-25.0 758.5 1627.0)" fill="#999" stroke="#222" stroke-width="1.4"/><path class="k" d="M751 1636Q758 1642 768 1640"/><ellipse cx="736.0" cy="1647.0" rx="11.0" ry="16.5" transform="rotate(-25.0 736.0 1647.0)" fill="#2a2a2a" stroke="#111" stroke-width="2.0"/><ellipse cx="738.5" cy="1648.0" rx="10.5" ry="15.5" transform="rotate(-25.0 738.5 1648.0)" fill="#888" stroke="#111" stroke-width="2.2"/><ellipse cx="739.5" cy="1648.5" rx="5.5" ry="9.1" transform="rotate(-25.0 739.5 1648.5)" fill="#fff" stroke="#222" stroke-width="1.6"/><ellipse cx="791.0" cy="1610.0" rx="11.0" ry="16.5" transform="rotate(-25.0 791.0 1610.0)" fill="#2a2a2a" stroke="#111" stroke-width="2.0"/><ellipse cx="793.5" cy="1611.0" rx="10.5" ry="15.5" transform="rotate(-25.0 793.5 1611.0)" fill="#888" stroke="#111" stroke-width="2.2"/><ellipse cx="794.5" cy="1611.5" rx="5.5" ry="9.1" transform="rotate(-25.0 794.5 1611.5)" fill="#fff" stroke="#222" stroke-width="1.6"/><path d="M688.5 1662.5L717.5 1647.5Q722 1648 723.5 1652.5Q724.5 1658 721.5 1661L695 1677.5Z" fill="#fff" stroke="#1a1a1a" stroke-width="2" stroke-linejoin="round"/><path d="M702 1655.5L717.5 1647.5Q722 1648 723.5 1652.5Q724.5 1658 721.5 1661L706.5 1670.5Z" fill="#777" stroke="#1a1a1a" stroke-width="1.5"/><path class="t" d="M705 1654L709.5 1668M709 1652L713.5 1666M713 1650L717.5 1663.5M717 1648L721 1661" style="stroke:#222"/><path class="t" d="M693 1667L700 1663.5L701 1668"/><ellipse cx="682.5" cy="1674.0" rx="8.5" ry="15.0" transform="rotate(-25.0 682.5 1674.0)" fill="#555" stroke="#111" stroke-width="2.0"/><ellipse cx="676.0" cy="1677.8" rx="9.0" ry="15.0" transform="rotate(-25.0 676.0 1677.8)" fill="#fff" stroke="#1c1c1c" stroke-width="2.2"/><path class="t" d="M724 1657L728 1655"/><path class="k" d="M1084 1595L1066 1604Q1058 1610 1058 1617Q1060 1627 1070 1627.5L1086 1620Z" style="fill:#fff"/><ellipse cx="1066.5" cy="1615.5" rx="7.0" ry="12.0" transform="rotate(-15.0 1066.5 1615.5)" fill="#222" stroke="#111" stroke-width="2.0"/><ellipse cx="1070.5" cy="1615.5" rx="9.5" ry="12.0" transform="rotate(-10.0 1070.5 1615.5)" fill="#fff" stroke="#1c1c1c" stroke-width="2.0"/><ellipse cx="1073.0" cy="1616.5" rx="2.8" ry="3.6" transform="rotate(0.0 1073.0 1616.5)" fill="#fff" stroke="#1c1c1c" stroke-width="1.6"/><path class="b" d="M1084 1594L1066 1603.5"/><path class="k" d="M1084.3 1591.5V1618Q1088 1624 1094.5 1623.5Q1102 1623 1104.5 1618V1591.5Z" style="fill:#fff"/><ellipse cx="1094.4" cy="1591.3" rx="10.0" ry="5.5" transform="rotate(0.0 1094.4 1591.3)" fill="#fff" stroke="#1c1c1c" stroke-width="2.0"/><path d="M1099 1626.5L1119 1636L1115.5 1644L1096 1634Q1095 1629 1099 1626.5Z" fill="#777" stroke="#1a1a1a" stroke-width="2" stroke-linejoin="round"/><path class="t" d="M1103 1628.5L1100 1636M1107 1630.5L1104 1638M1111 1632.5L1108 1640M1115 1634.5L1112 1642" style="stroke:#222"/><path class="k" d="M1119 1631L1128 1632L1131 1637L1127 1653L1117 1651L1114 1646Z" style="fill:#555"/><ellipse cx="1131.5" cy="1646.0" rx="7.0" ry="10.0" transform="rotate(20.0 1131.5 1646.0)" fill="#fff" stroke="#1c1c1c" stroke-width="2.0"/><path class="k" d="M1121 1632.5L1131.5 1636L1128 1655.5L1118 1650Z" style="fill:#fff"/><path d="M1117 1644L1124 1647L1123 1654L1117 1651Z" fill="#222"/><ellipse cx="1132.0" cy="1646.0" rx="7.0" ry="10.0" transform="rotate(20.0 1132.0 1646.0)" fill="#fff" stroke="#1c1c1c" stroke-width="2.0"/><ellipse cx="1176.3" cy="1638.8" rx="28.5" ry="41.0" transform="rotate(25.0 1176.3 1638.8)" fill="none" stroke="#111" stroke-width="4.2"/><path class="t" d="M1152 1626Q1160 1607 1180 1601"/><path class="k" d="M1162.5 1703.8L1256 1594.5Q1258 1592.5 1261 1592.5L1290 1596.3Q1300 1598 1305 1602.5Q1310 1607 1311.3 1612.5L1317.5 1640L1220 1753.8Q1218 1757 1214 1757.5L1180 1756.3Q1174 1753 1170 1747.5Q1165 1740 1162.5 1730Z" style="fill:#fff"/><path class="k" d="M1172.5 1712.5L1262.5 1600M1172.5 1712.5L1175 1742.5Q1177 1752 1184 1756"/><path d="M1317.5 1640L1220 1753.8" stroke="#111" stroke-width="3" fill="none" stroke-linecap="round"/><ellipse cx="1300.0" cy="1612.5" rx="3.4" ry="5.0" transform="rotate(25.0 1300.0 1612.5)" fill="#fff" stroke="#1c1c1c" stroke-width="1.8"/><ellipse cx="1185.0" cy="1743.8" rx="3.4" ry="5.0" transform="rotate(25.0 1185.0 1743.8)" fill="#fff" stroke="#1c1c1c" stroke-width="1.8"/><path d="M1226 1762.5L1248 1774.5L1244.5 1782L1222.5 1770Q1221.5 1765 1226 1762.5Z" fill="#666" stroke="#1a1a1a" stroke-width="2" stroke-linejoin="round"/><path class="t" d="M1230 1765L1227 1772M1234 1767L1231 1774.5M1238 1769.5L1235 1776.5M1242 1771.5L1239 1779" style="stroke:#222"/><ellipse cx="1251.5" cy="1782.0" rx="6.5" ry="10.5" transform="rotate(25.0 1251.5 1782.0)" fill="#444" stroke="#111" stroke-width="2.0"/><ellipse cx="1255.0" cy="1784.0" rx="7.5" ry="10.5" transform="rotate(25.0 1255.0 1784.0)" fill="#fff" stroke="#1c1c1c" stroke-width="2.0"/>
<!-- 27_misc.svg -->
<path class="k" d="M1005 1139V1150Q1013 1156 1022.5 1150V1139Z" style="fill:#777"/><path class="t" d="M1005 1143Q1013 1148 1022.5 1143M1005 1147Q1013 1152 1022.5 1147" style="stroke:#222"/><path class="k" d="M1002 1126V1138Q1013 1146 1025.5 1138V1126Z" style="fill:#fff"/><ellipse cx="1013.7" cy="1126.5" rx="11.8" ry="5.2" transform="rotate(0.0 1013.7 1126.5)" fill="#fff" stroke="#1c1c1c" stroke-width="2.2"/><ellipse cx="1013.7" cy="1126.8" rx="6.5" ry="2.8" transform="rotate(0.0 1013.7 1126.8)" fill="#999" stroke="#222" stroke-width="1.4"/><path class="k" d="M1008 1131V1142M1019 1131V1142"/><ellipse cx="1012.3" cy="1179.0" rx="16.5" ry="10.5" transform="rotate(0.0 1012.3 1179.0)" fill="#2a2a2a" stroke="#222" stroke-width="1.5"/><ellipse cx="1012.3" cy="1177.5" rx="16.5" ry="10.5" transform="rotate(0.0 1012.3 1177.5)" fill="#777" stroke="#1a1a1a" stroke-width="2.4"/><ellipse cx="1012.3" cy="1177.0" rx="9.5" ry="5.0" transform="rotate(0.0 1012.3 1177.0)" fill="#fff" stroke="#222" stroke-width="1.6"/><path class="t" d="M996 1178.5H1028"/>
<!-- 30_comp.svg -->
<path class="k" d="M827.9 1239.9L838 1216.6L862.8 1201.1L884.5 1198L887.6 1187.1Q892 1182 897 1181.6L909.4 1182.4L921.8 1185.5L928 1184L934.2 1180.9L949.8 1180.1L965.3 1184L977.7 1191.7L993.2 1198L1010.3 1207.3L1019.6 1215L1030.5 1229L1042.9 1238.3L1052.2 1250.7L1056.9 1266.3L1058.4 1278.7V1290L1016.5 1305.1L976.1 1323.7L959.1 1331.5Q946.6 1336 934.2 1332.5L827.9 1270.9Z" style="fill:#fff"/><path class="k" d="M827.9 1239.9L934.2 1302Q942 1304.5 949.8 1302.5L976 1290"/><path class="t" d="M864.3 1256L930 1294M881.4 1262L936 1293.5M889 1262L940 1291"/><path class="t" d="M1016.5 1291L1036 1281.5"/><path class="k" d="M976.1 1324.5V1304Q978 1292 985.5 1288L1001 1279Q1010 1278 1014 1284Q1017 1290 1016.5 1305.5L982.4 1326.8Z" style="fill:#fff"/><path class="t" d="M982.4 1326.8V1306Q984 1294 992 1290"/><path class="k" d="M936.7 1183.5V1192.5Q944.2 1197.5 951.7 1192.5V1183.5Z" style="fill:#fff"/><ellipse cx="944.2" cy="1183.5" rx="7.5" ry="4.0" transform="rotate(0.0 944.2 1183.5)" fill="#fff" stroke="#1c1c1c" stroke-width="2.3"/><path class="b" d="M936.7 1184.5V1192.5"/><ellipse cx="955.5" cy="1207.5" rx="22.5" ry="13.5" transform="rotate(8.0 955.5 1207.5)" fill="#fff" stroke="#1c1c1c" stroke-width="2.2"/><ellipse cx="955.5" cy="1207.3" rx="16.5" ry="9.0" transform="rotate(5.0 955.5 1207.3)" fill="#fff" stroke="#1c1c1c" stroke-width="2.2"/><path class="k" d="M929 1186Q934 1196 932 1205M936 1180.5L944 1181L944 1190M958 1181Q958 1186 966 1188"/><path class="k" d="M884.5 1198Q890 1196 893 1199Q893 1207 886 1211M887.6 1187.1Q886 1193 890 1196"/><ellipse cx="869.0" cy="1218.0" rx="14.0" ry="7.8" transform="rotate(-8.0 869.0 1218.0)" fill="#fff" stroke="#1c1c1c" stroke-width="1.8"/><ellipse cx="869.0" cy="1218.5" rx="8.0" ry="4.3" transform="rotate(-8.0 869.0 1218.5)" fill="#fff" stroke="#1c1c1c" stroke-width="1.5"/><ellipse cx="914.0" cy="1203.5" rx="5.0" ry="3.0" transform="rotate(0.0 914.0 1203.5)" fill="#bbb" stroke="#1c1c1c" stroke-width="2.0"/><path class="t" d="M884 1216L905 1203H930M838 1216.6L851 1224M893 1215L925 1215"/><ellipse cx="1010.3" cy="1226.0" rx="13.2" ry="7.0" transform="rotate(5.0 1010.3 1226.0)" fill="#fff" stroke="#1c1c1c" stroke-width="2.0"/><ellipse cx="1010.3" cy="1227.0" rx="8.0" ry="4.0" transform="rotate(5.0 1010.3 1227.0)" fill="#fff" stroke="#1c1c1c" stroke-width="1.6"/><path class="b" d="M1016 1211L1022 1222M1022 1232L1028 1241"/><path class="k" d="M949 1246L959 1235.5Q970 1230.5 981 1231.3L996 1238L1001 1243H1022.7L1026 1250.7L1004 1261.6L988.6 1269.4L977.7 1281.8L965.3 1285L955 1278"/><ellipse cx="971.5" cy="1250.7" rx="17.9" ry="10.0" transform="rotate(5.0 971.5 1250.7)" fill="#fff" stroke="#1c1c1c" stroke-width="2.0"/><path class="t" d="M996 1268L1025 1254M1000 1274L1030 1259M985 1290L1003 1272"/><path class="k" d="M849.1 1236.0V1245.0Q856.6 1250.0 864.1 1245.0V1236.0Z" style="fill:#fff"/><ellipse cx="856.6" cy="1236.0" rx="7.5" ry="4.0" transform="rotate(0.0 856.6 1236.0)" fill="#fff" stroke="#1c1c1c" stroke-width="2.3"/><path class="b" d="M849.1 1237.0V1245.0"/><path class="k" d="M900.3 1237.0V1246.0Q907.8 1251.0 915.3 1246.0V1237.0Z" style="fill:#fff"/><ellipse cx="907.8" cy="1237.0" rx="7.5" ry="4.0" transform="rotate(0.0 907.8 1237.0)" fill="#fff" stroke="#1c1c1c" stroke-width="2.3"/><path class="b" d="M900.3 1238.0V1246.0"/><path class="k" d="M937.6 1287.5V1296.5Q945.1 1301.5 952.6 1296.5V1287.5Z" style="fill:#fff"/><ellipse cx="945.1" cy="1287.5" rx="7.5" ry="4.0" transform="rotate(0.0 945.1 1287.5)" fill="#fff" stroke="#1c1c1c" stroke-width="2.3"/><path class="b" d="M937.6 1288.5V1296.5"/><path class="k" d="M1023.0 1240.0V1249.0Q1030.5 1254.0 1038.0 1249.0V1240.0Z" style="fill:#fff"/><ellipse cx="1030.5" cy="1240.0" rx="7.5" ry="4.0" transform="rotate(0.0 1030.5 1240.0)" fill="#fff" stroke="#1c1c1c" stroke-width="2.3"/><path class="b" d="M1023.0 1241.0V1249.0"/><path class="b" d="M862 1245V1262M1019 1241L1024 1246"/><ellipse cx="878.3" cy="1251.0" rx="11.6" ry="7.5" transform="rotate(0.0 878.3 1251.0)" fill="#888" stroke="#111" stroke-width="2.6"/><ellipse cx="878.3" cy="1250.0" rx="6.5" ry="4.0" transform="rotate(0.0 878.3 1250.0)" fill="#ddd" stroke="#222" stroke-width="1.5"/><path d="M889 1226L901 1224L903 1232L892 1236Z" fill="#111"/><path class="b" d="M888 1222L893 1240"/><path class="k" d="M917 1247V1262Q931 1271 946 1262V1247Z" style="fill:#fff"/><ellipse cx="931.5" cy="1248.0" rx="14.5" ry="5.5" transform="rotate(0.0 931.5 1248.0)" fill="#fff" stroke="#1c1c1c" stroke-width="2.0"/><path d="M917 1258Q931 1271 946.6 1258" fill="none" stroke="#111" stroke-width="3.4"/><path class="k" d="M921 1229V1247Q933 1253 946.6 1247V1229Q945 1222 940 1220H928Q922 1222 921 1229Z" style="fill:#fff"/><path class="t" d="M921 1231Q933 1237 946.6 1231M930 1220V1225M937 1220V1225M931 1208L933 1220"/><path class="b" d="M923 1251V1262M944 1251V1262"/><path d="M925 1252H942V1264H925Z" fill="#999"/><path d="M930 1254H938V1266H930Z" fill="#fff"/><ellipse cx="1042.9" cy="1271.0" rx="5.0" ry="7.5" transform="rotate(-15.0 1042.9 1271.0)" fill="#fff" stroke="#1c1c1c" stroke-width="2.0"/><path class="k" d="M1036 1256L1036 1283M1036 1283L1056 1275M1042 1252L1052 1258M1048 1262Q1056 1266 1054 1280"/><path class="t" d="M1036 1288L1058 1279"/><path class="k" d="M840.3 1279V1346L935.8 1398.3Q946.6 1402.5 960 1397.5L1049 1355Q1060 1349 1061 1330V1289L960 1333Q946.6 1337.5 934.2 1333.5Z" style="fill:#fff"/><path d="M840.5 1283.4L934.5 1337.3Q946.6 1341.5 959 1337L1059 1297.5" fill="none" stroke="#111" stroke-width="3.6" stroke-linecap="round"/><path d="M841.8 1306.6L934.2 1358.7Q947 1363.5 960 1358L1059 1314.4" fill="none" stroke="#111" stroke-width="3.6" stroke-linecap="round"/><path d="M842.6 1319.1L934.2 1371.9Q947 1376.5 960 1371L1060 1326.8" fill="none" stroke="#111" stroke-width="3.6" stroke-linecap="round"/><path d="M843.4 1326.8L934.2 1378.5Q947 1383 960 1378L1056 1334" class="t" style="stroke-dasharray:3 1.5"/><path d="M841 1290L934.2 1343.5Q947 1348 960 1343L1059 1302" class="t" style="stroke-dasharray:3 1.5"/><path class="k" d="M851.9 1362L872 1408"/><path fill="#fff" stroke="none" d="M853 1358L936 1400L960 1399L1049 1356L1030 1372L1020 1394L1070 1444L1050 1438L940 1505L939 1636L908 1622L838 1562L800 1532L785 1503V1397L780 1380L801 1335.5L843 1349.5Z"/><path class="k" d="M843.4 1345.5L853.9 1360.4L870.9 1407V1452Q873 1464 883.4 1469Q895 1476 914.4 1478.4"/><path class="k" d="M856.6 1364L873.7 1409M875.6 1379V1407"/><path class="k" d="M851.9 1361L935.8 1407Q946.6 1410 956 1406L1036 1369"/><path class="k" d="M1049 1356L1044 1362"/><path class="t" d="M926.8 1407L937.7 1434.9Q940 1437.5 942.5 1435L951.7 1407"/><path class="k" d="M954.8 1419.4L1012.2 1391.4L1018.4 1399.2V1428.7L965.7 1456.6L956.3 1448.9Z" style="fill:#fff"/><path class="k" d="M961 1425L1016 1398M961 1425L963 1452M1016 1426L964 1452"/><path class="g" d="M957.5 1422L959 1447"/><path class="k" d="M1018.1 1373.4L1019.6 1393.6M1030.5 1371.9L1021 1394"/><path class="k" d="M1021.6 1419.4L1070 1444.2M1018.4 1399.5L1022 1404"/><path class="t" d="M940.8 1461.3Q955 1466 971.9 1466M937.7 1466L914.4 1478.4"/><path class="t" d="M914.4 1478.4Q906 1490 907 1502L927.8 1580" style="stroke-dasharray:9 2"/><path class="k" d="M843 1349.5L801.1 1335.5Q797 1335 795 1339L780.1 1377Q779 1381 782 1384L787.1 1388.3L785.5 1397.6L784.8 1500Q786 1520 799.5 1534L802.3 1541.9L837.5 1560.6"/><path class="t" d="M807.3 1341.7L836.8 1351M822.8 1355.7L843 1352.6M822.8 1355.7L804.9 1397.6M787.1 1388.3L806 1398.5M811.1 1400.7V1500Q812 1525 819.7 1548"/><path class="t" d="M798 1342L785 1376"/><ellipse cx="829.8" cy="1365.8" rx="4.7" ry="7.0" transform="rotate(20.0 829.8 1365.8)" fill="#fff" stroke="#1c1c1c" stroke-width="1.8"/><ellipse cx="822.0" cy="1388.3" rx="4.4" ry="6.3" transform="rotate(20.0 822.0 1388.3)" fill="#fff" stroke="#1c1c1c" stroke-width="1.8"/><path class="t" d="M853.9 1388.3Q832 1420 827.5 1449Q823 1478 829 1506Q834 1527 843 1540.5"/><path class="t" d="M863.2 1411.6Q850 1430 844.5 1452" style="stroke-dasharray:12 3"/><ellipse cx="834.3" cy="1475.0" rx="13.2" ry="17.0" transform="rotate(-18.0 834.3 1475.0)" fill="#fff" stroke="#1c1c1c" stroke-width="2.2"/><ellipse cx="832.5" cy="1472.5" rx="9.0" ry="12.0" transform="rotate(-18.0 832.5 1472.5)" fill="#777" stroke="#111" stroke-width="2.0"/><ellipse cx="832.0" cy="1472.0" rx="4.5" ry="6.5" transform="rotate(-18.0 832.0 1472.0)" fill="#bbb" stroke="#222" stroke-width="1.3"/><path class="b" d="M828 1462Q836 1458 842 1465"/><path class="k" d="M842 1544.4Q852 1545 864.4 1561.8L874.3 1574.2L886.8 1578L888 1589.1L906.6 1594.1L907.3 1621.4"/><path class="t" d="M842 1545V1561M843 1561Q856 1563 864.4 1561.8"/><path class="b" d="M837.7 1560.6L838.3 1592.9"/><path class="k" d="M838.3 1563L888 1589.1M839.6 1581.7L900.4 1614M840.8 1586.6L896 1616.5M838.3 1592.9L888 1619H907"/><path class="k" d="M839 1593Q841 1600 847 1600.3Q853 1600 855.5 1596M886.8 1619Q887 1626 895 1627H903Q908 1626 909 1621.5"/><path class="k" d="M909.1 1622.7L937.7 1637.6"/><path class="k" d="M930.2 1590.4Q925 1597 926.5 1603Q927 1610 931 1613"/><path d="M938.5 1583V1508Q939 1500 945 1496L1050.8 1437.3" fill="none" stroke="#111" stroke-width="3.4" stroke-linecap="round"/><path class="k" d="M942.5 1572V1510Q943 1503 948 1500.5L1050.8 1443.5"/><path class="k" d="M1050.8 1437.3Q1060 1437 1066 1446L1070 1458"/><path class="t" d="M1049 1441L1063 1452M1046 1446L1058 1457"/><path class="k" d="M1062.5 1461.3Q1070 1457 1075 1463Q1078 1468 1076.4 1474L1043 1546L1029 1571L1036.8 1594L962.3 1620.5L943.7 1623.6Q932 1622 929 1614Q925 1606 928 1600L963.9 1524.2Q970 1513 982.5 1507.1Z" style="fill:#fff"/><path class="t" d="M948.3 1600L985 1530Q990 1520 1000 1514L1062 1478"/><path class="t" d="M1062.5 1461.3L976 1511"/><ellipse cx="1067.9" cy="1474.5" rx="3.8" ry="5.0" transform="rotate(25.0 1067.9 1474.5)" fill="#fff" stroke="#1c1c1c" stroke-width="1.6"/><ellipse cx="948.3" cy="1608.0" rx="3.8" ry="5.0" transform="rotate(25.0 948.3 1608.0)" fill="#fff" stroke="#1c1c1c" stroke-width="1.6"/><ellipse cx="1008.9" cy="1542.9" rx="28.0" ry="43.0" transform="rotate(25.0 1008.9 1542.9)" fill="#fff" stroke="#1c1c1c" stroke-width="2.2"/><path class="k" d="M1021 1506Q1034 1520 1026 1548Q1016 1572 994 1579"/><path class="t" d="M1017 1508Q1029 1522 1021 1548Q1011 1570 990 1576M1024 1513Q1027 1520 1026 1528M986 1572Q1000 1570 1012 1556"/><ellipse cx="953.0" cy="1508.7" rx="9.0" ry="10.5" transform="rotate(-15.0 953.0 1508.7)" fill="#555" stroke="#111" stroke-width="2.4"/><ellipse cx="954.0" cy="1509.2" rx="5.0" ry="6.5" transform="rotate(-15.0 954.0 1509.2)" fill="#ccc" stroke="#111" stroke-width="1.8"/><ellipse cx="1057.5" cy="1449.7" rx="9.0" ry="10.5" transform="rotate(-15.0 1057.5 1449.7)" fill="#555" stroke="#111" stroke-width="2.4"/><ellipse cx="1058.5" cy="1450.2" rx="5.0" ry="6.5" transform="rotate(-15.0 1058.5 1450.2)" fill="#ccc" stroke="#111" stroke-width="1.8"/><ellipse cx="1058.6" cy="1572.4" rx="8.0" ry="9.5" transform="rotate(-15.0 1058.6 1572.4)" fill="#555" stroke="#111" stroke-width="2.4"/><ellipse cx="1059.6" cy="1572.9" rx="4.0" ry="5.5" transform="rotate(-15.0 1059.6 1572.9)" fill="#ccc" stroke="#111" stroke-width="1.8"/><path class="k" d="M962 1500Q975 1492 990 1493L993 1491M962 1500L990 1493"/><path class="b" d="M950 1521L957 1538L961 1536"/><path class="t" d="M1029 1470L1062 1452M1025 1474L1033 1466L1040 1470"/><path class="k" d="M1066 1487V1565M1043 1546L1066 1487M1050 1538L1064 1566M1029.1 1570.8V1589.4H1040M1040 1560V1590"/><path class="b" d="M1046 1540L1040 1553"/><path class="k" d="M967 1623.6L1052.4 1583.2M974.7 1648.4L1050.8 1606.5Q1054 1600 1053 1592L1052.4 1583.2M1040 1588Q1046 1582 1052 1584"/><path class="t" d="M976 1612L1004 1596M985 1615L992 1600M995 1612L1003 1596M1000 1608L1007 1594M962 1626L985 1640"/><ellipse cx="1046.0" cy="1594.0" rx="5.0" ry="8.0" transform="rotate(15.0 1046.0 1594.0)" fill="#fff" stroke="#1c1c1c" stroke-width="1.6"/><path d="M936.5 1616.5H960V1642.5L936.5 1637Z" fill="#111"/><ellipse cx="952.6" cy="1632.6" rx="7.0" ry="8.0" transform="rotate(-15.0 952.6 1632.6)" fill="#aaa" stroke="#000" stroke-width="2.5"/><ellipse cx="953.0" cy="1632.6" rx="3.0" ry="4.0" transform="rotate(-15.0 953.0 1632.6)" fill="#ddd" stroke="#222" stroke-width="1.0"/><ellipse cx="975.0" cy="1636.3" rx="6.5" ry="8.0" transform="rotate(-15.0 975.0 1636.3)" fill="#fff" stroke="#111" stroke-width="2.5"/><path d="M966 1628L972 1630L970 1644L964 1642Z" fill="#111"/><path class="k" d="M960 1642.5L974.7 1648.4"/>
<!-- 40_overlay.svg -->
<g class="l"><path d="M880.2 1004V1251" stroke="#777" stroke-width="3.4"/><path d="M878.6 1004V1251M881.8 1004V1251" stroke="#555" stroke-width="0.8"/>
<path d="M1011 1155V1167M1011 1190V1228"/><path d="M519 1735L800 1572Q801 1571 801 1569V1493Q801 1490 804 1488.5L822 1481" stroke="#333" stroke-width="1.5"/><path d="M712.5 1459L832 1390" stroke="#333" stroke-width="1.5"/><path d="M949 1609L1160 1729" stroke="#333" stroke-width="1.5"/></g>
</g>
</svg>
</body></html>
